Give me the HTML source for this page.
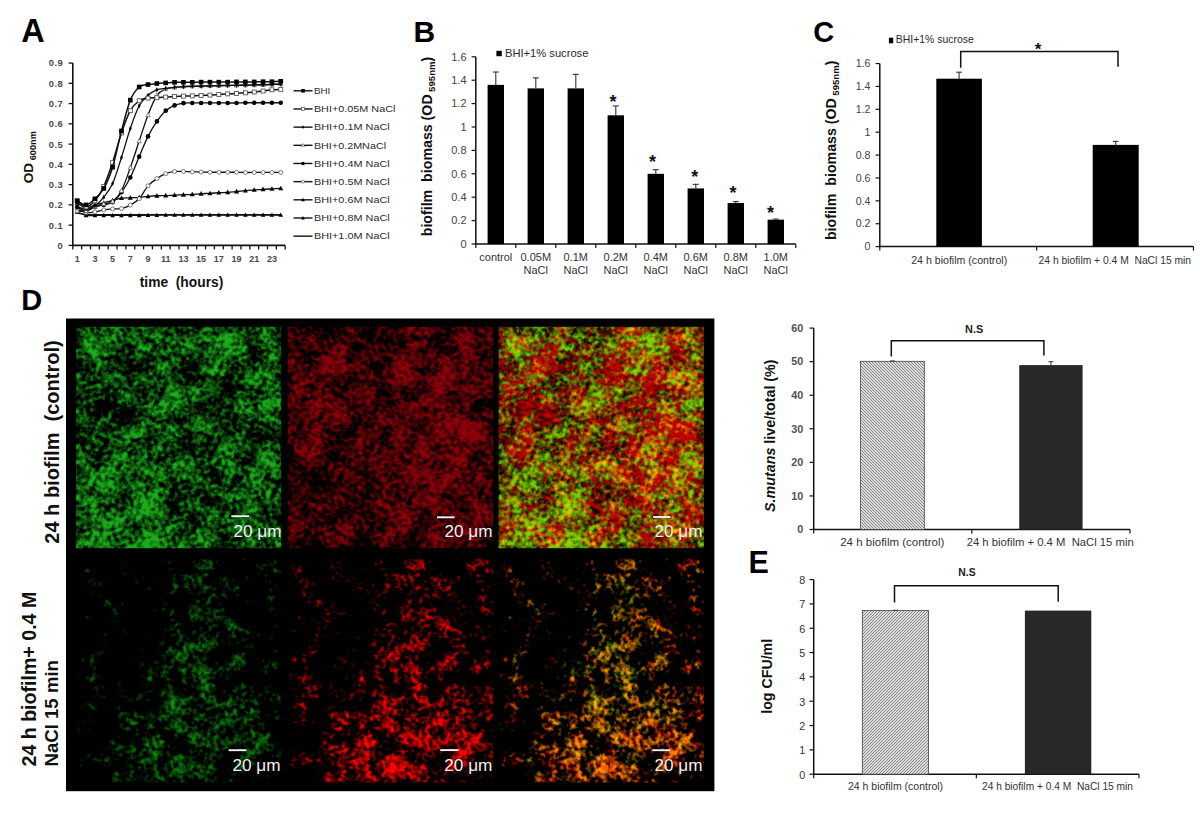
<!DOCTYPE html><html><head><meta charset="utf-8"><style>html,body{margin:0;padding:0;background:#fff;}svg{display:block;}</style></head><body>
<svg width="1200" height="813" viewBox="0 0 1200 813" font-family='"Liberation Sans", sans-serif'>
<defs>
<pattern id="hD" patternUnits="userSpaceOnUse" x="0" y="0" width="3" height="3"><rect width="3" height="3" fill="#dcdcdc"/><path d="M-1.5,1.5L1.5,4.5M0,0L3,3M1.5,-1.5L4.5,1.5" stroke="#858585" stroke-width="1.0"/></pattern>
<pattern id="hE" patternUnits="userSpaceOnUse" x="0" y="0" width="3" height="3"><rect width="3" height="3" fill="#dcdcdc"/><path d="M-1.5,1.5L1.5,-1.5M0,3L3,0M1.5,4.5L4.5,1.5" stroke="#858585" stroke-width="1.0"/></pattern>
</defs>
<rect width="1200" height="813" fill="#fff"/>
<text x="21.30" y="42.00" font-size="32.5" font-weight="bold" text-anchor="start" fill="#000" >A</text>
<line x1="72.80" y1="63.06" x2="72.80" y2="245.90" stroke="#111" stroke-width="1.6"/>
<line x1="68.60" y1="245.40" x2="72.80" y2="245.40" stroke="#111" stroke-width="1.3"/>
<text x="63.30" y="248.80" font-size="9.4" font-weight="bold" text-anchor="end" fill="#4a4a4a" letter-spacing="0.5">0</text>
<line x1="68.60" y1="225.14" x2="72.80" y2="225.14" stroke="#111" stroke-width="1.3"/>
<text x="63.30" y="228.54" font-size="9.4" font-weight="bold" text-anchor="end" fill="#4a4a4a" letter-spacing="0.5">0.1</text>
<line x1="68.60" y1="204.88" x2="72.80" y2="204.88" stroke="#111" stroke-width="1.3"/>
<text x="63.30" y="208.28" font-size="9.4" font-weight="bold" text-anchor="end" fill="#4a4a4a" letter-spacing="0.5">0.2</text>
<line x1="68.60" y1="184.62" x2="72.80" y2="184.62" stroke="#111" stroke-width="1.3"/>
<text x="63.30" y="188.02" font-size="9.4" font-weight="bold" text-anchor="end" fill="#4a4a4a" letter-spacing="0.5">0.3</text>
<line x1="68.60" y1="164.36" x2="72.80" y2="164.36" stroke="#111" stroke-width="1.3"/>
<text x="63.30" y="167.76" font-size="9.4" font-weight="bold" text-anchor="end" fill="#4a4a4a" letter-spacing="0.5">0.4</text>
<line x1="68.60" y1="144.10" x2="72.80" y2="144.10" stroke="#111" stroke-width="1.3"/>
<text x="63.30" y="147.50" font-size="9.4" font-weight="bold" text-anchor="end" fill="#4a4a4a" letter-spacing="0.5">0.5</text>
<line x1="68.60" y1="123.84" x2="72.80" y2="123.84" stroke="#111" stroke-width="1.3"/>
<text x="63.30" y="127.24" font-size="9.4" font-weight="bold" text-anchor="end" fill="#4a4a4a" letter-spacing="0.5">0.6</text>
<line x1="68.60" y1="103.58" x2="72.80" y2="103.58" stroke="#111" stroke-width="1.3"/>
<text x="63.30" y="106.98" font-size="9.4" font-weight="bold" text-anchor="end" fill="#4a4a4a" letter-spacing="0.5">0.7</text>
<line x1="68.60" y1="83.32" x2="72.80" y2="83.32" stroke="#111" stroke-width="1.3"/>
<text x="63.30" y="86.72" font-size="9.4" font-weight="bold" text-anchor="end" fill="#4a4a4a" letter-spacing="0.5">0.8</text>
<line x1="68.60" y1="63.06" x2="72.80" y2="63.06" stroke="#111" stroke-width="1.3"/>
<text x="63.30" y="66.46" font-size="9.4" font-weight="bold" text-anchor="end" fill="#4a4a4a" letter-spacing="0.5">0.9</text>
<line x1="72.00" y1="245.40" x2="285.20" y2="245.40" stroke="#111" stroke-width="1.6"/>
<line x1="72.80" y1="245.40" x2="72.80" y2="249.40" stroke="#111" stroke-width="1.3"/>
<line x1="81.65" y1="245.40" x2="81.65" y2="249.40" stroke="#111" stroke-width="1.3"/>
<line x1="90.50" y1="245.40" x2="90.50" y2="249.40" stroke="#111" stroke-width="1.3"/>
<line x1="99.35" y1="245.40" x2="99.35" y2="249.40" stroke="#111" stroke-width="1.3"/>
<line x1="108.20" y1="245.40" x2="108.20" y2="249.40" stroke="#111" stroke-width="1.3"/>
<line x1="117.05" y1="245.40" x2="117.05" y2="249.40" stroke="#111" stroke-width="1.3"/>
<line x1="125.90" y1="245.40" x2="125.90" y2="249.40" stroke="#111" stroke-width="1.3"/>
<line x1="134.75" y1="245.40" x2="134.75" y2="249.40" stroke="#111" stroke-width="1.3"/>
<line x1="143.60" y1="245.40" x2="143.60" y2="249.40" stroke="#111" stroke-width="1.3"/>
<line x1="152.45" y1="245.40" x2="152.45" y2="249.40" stroke="#111" stroke-width="1.3"/>
<line x1="161.30" y1="245.40" x2="161.30" y2="249.40" stroke="#111" stroke-width="1.3"/>
<line x1="170.15" y1="245.40" x2="170.15" y2="249.40" stroke="#111" stroke-width="1.3"/>
<line x1="179.00" y1="245.40" x2="179.00" y2="249.40" stroke="#111" stroke-width="1.3"/>
<line x1="187.85" y1="245.40" x2="187.85" y2="249.40" stroke="#111" stroke-width="1.3"/>
<line x1="196.70" y1="245.40" x2="196.70" y2="249.40" stroke="#111" stroke-width="1.3"/>
<line x1="205.55" y1="245.40" x2="205.55" y2="249.40" stroke="#111" stroke-width="1.3"/>
<line x1="214.40" y1="245.40" x2="214.40" y2="249.40" stroke="#111" stroke-width="1.3"/>
<line x1="223.25" y1="245.40" x2="223.25" y2="249.40" stroke="#111" stroke-width="1.3"/>
<line x1="232.10" y1="245.40" x2="232.10" y2="249.40" stroke="#111" stroke-width="1.3"/>
<line x1="240.95" y1="245.40" x2="240.95" y2="249.40" stroke="#111" stroke-width="1.3"/>
<line x1="249.80" y1="245.40" x2="249.80" y2="249.40" stroke="#111" stroke-width="1.3"/>
<line x1="258.65" y1="245.40" x2="258.65" y2="249.40" stroke="#111" stroke-width="1.3"/>
<line x1="267.50" y1="245.40" x2="267.50" y2="249.40" stroke="#111" stroke-width="1.3"/>
<line x1="276.35" y1="245.40" x2="276.35" y2="249.40" stroke="#111" stroke-width="1.3"/>
<line x1="285.20" y1="245.40" x2="285.20" y2="249.40" stroke="#111" stroke-width="1.3"/>
<text x="77.22" y="262.20" font-size="9" font-weight="bold" text-anchor="middle" fill="#4a4a4a" >1</text>
<text x="94.92" y="262.20" font-size="9" font-weight="bold" text-anchor="middle" fill="#4a4a4a" >3</text>
<text x="112.62" y="262.20" font-size="9" font-weight="bold" text-anchor="middle" fill="#4a4a4a" >5</text>
<text x="130.32" y="262.20" font-size="9" font-weight="bold" text-anchor="middle" fill="#4a4a4a" >7</text>
<text x="148.02" y="262.20" font-size="9" font-weight="bold" text-anchor="middle" fill="#4a4a4a" >9</text>
<text x="165.72" y="262.20" font-size="9" font-weight="bold" text-anchor="middle" fill="#4a4a4a" >11</text>
<text x="183.43" y="262.20" font-size="9" font-weight="bold" text-anchor="middle" fill="#4a4a4a" >13</text>
<text x="201.12" y="262.20" font-size="9" font-weight="bold" text-anchor="middle" fill="#4a4a4a" >15</text>
<text x="218.82" y="262.20" font-size="9" font-weight="bold" text-anchor="middle" fill="#4a4a4a" >17</text>
<text x="236.52" y="262.20" font-size="9" font-weight="bold" text-anchor="middle" fill="#4a4a4a" >19</text>
<text x="254.22" y="262.20" font-size="9" font-weight="bold" text-anchor="middle" fill="#4a4a4a" >21</text>
<text x="271.93" y="262.20" font-size="9" font-weight="bold" text-anchor="middle" fill="#4a4a4a" >23</text>
<text x="181.50" y="287.20" font-size="13.8" font-weight="bold" text-anchor="middle" fill="#111" >time&#160;&#160;(hours)</text>
<text transform="translate(33.3,183.2) rotate(-90)" font-size="13.6" font-weight="bold" fill="#111">OD<tspan font-size="9.2" dx="2.5" dy="2.4">600nm</tspan></text>
<path d="M77.22,212.98C78.64,213.24 83.24,214.35 86.07,214.60C88.91,214.86 92.09,214.60 94.92,214.60C97.76,214.60 100.94,214.60 103.77,214.60C106.61,214.60 109.79,214.60 112.62,214.60C115.46,214.60 118.64,214.60 121.47,214.60C124.31,214.60 127.49,214.60 130.32,214.60C133.16,214.60 136.34,214.60 139.18,214.60C142.01,214.60 145.19,214.60 148.02,214.60C150.86,214.60 154.04,214.60 156.88,214.60C159.71,214.60 162.89,214.60 165.72,214.60C168.56,214.60 171.74,214.60 174.57,214.60C177.41,214.60 180.59,214.60 183.43,214.60C186.26,214.60 189.44,214.60 192.27,214.60C195.11,214.60 198.29,214.60 201.12,214.60C203.96,214.60 207.14,214.60 209.97,214.60C212.81,214.60 215.99,214.60 218.82,214.60C221.66,214.60 224.84,214.60 227.68,214.60C230.51,214.60 233.69,214.60 236.52,214.60C239.36,214.60 242.54,214.60 245.38,214.60C248.21,214.60 251.39,214.60 254.22,214.60C257.06,214.60 260.24,214.60 263.07,214.60C265.91,214.60 269.09,214.60 271.93,214.60C274.76,214.60 279.36,214.60 280.77,214.60" fill="none" stroke="#111" stroke-width="1.3"/>
<path d="M77.22,211.97C78.64,212.52 83.24,214.86 86.07,215.42C88.91,215.97 92.09,215.42 94.92,215.42C97.76,215.42 100.94,215.42 103.77,215.42C106.61,215.42 109.79,215.42 112.62,215.42C115.46,215.42 118.64,215.42 121.47,215.42C124.31,215.42 127.49,215.42 130.32,215.42C133.16,215.42 136.34,215.45 139.18,215.42C142.01,215.38 145.19,215.25 148.02,215.21C150.86,215.18 154.04,215.25 156.88,215.21C159.71,215.18 162.89,215.04 165.72,215.01C168.56,214.98 171.74,215.01 174.57,215.01C177.41,215.01 180.59,215.01 183.43,215.01C186.26,215.01 189.44,215.01 192.27,215.01C195.11,215.01 198.29,215.01 201.12,215.01C203.96,215.01 207.14,215.01 209.97,215.01C212.81,215.01 215.99,215.01 218.82,215.01C221.66,215.01 224.84,215.01 227.68,215.01C230.51,215.01 233.69,215.01 236.52,215.01C239.36,215.01 242.54,215.01 245.38,215.01C248.21,215.01 251.39,215.01 254.22,215.01C257.06,215.01 260.24,215.01 263.07,215.01C265.91,215.01 269.09,215.01 271.93,215.01C274.76,215.01 279.36,215.01 280.77,215.01" fill="none" stroke="#111" stroke-width="1.3"/>
<path d="M77.22,209.57L79.52,213.77L74.92,213.77Z" fill="#000"/>
<path d="M86.07,213.02L88.37,217.22L83.77,217.22Z" fill="#000"/>
<path d="M94.92,213.02L97.22,217.22L92.62,217.22Z" fill="#000"/>
<path d="M103.77,213.02L106.07,217.22L101.47,217.22Z" fill="#000"/>
<path d="M112.62,213.02L114.92,217.22L110.33,217.22Z" fill="#000"/>
<path d="M121.47,213.02L123.77,217.22L119.17,217.22Z" fill="#000"/>
<path d="M130.32,213.02L132.62,217.22L128.02,217.22Z" fill="#000"/>
<path d="M139.18,213.02L141.48,217.22L136.88,217.22Z" fill="#000"/>
<path d="M148.02,212.81L150.32,217.01L145.72,217.01Z" fill="#000"/>
<path d="M156.88,212.81L159.18,217.01L154.57,217.01Z" fill="#000"/>
<path d="M165.72,212.61L168.03,216.81L163.42,216.81Z" fill="#000"/>
<path d="M174.57,212.61L176.88,216.81L172.27,216.81Z" fill="#000"/>
<path d="M183.43,212.61L185.73,216.81L181.12,216.81Z" fill="#000"/>
<path d="M192.27,212.61L194.57,216.81L189.97,216.81Z" fill="#000"/>
<path d="M201.12,212.61L203.43,216.81L198.82,216.81Z" fill="#000"/>
<path d="M209.97,212.61L212.27,216.81L207.67,216.81Z" fill="#000"/>
<path d="M218.82,212.61L221.12,216.81L216.52,216.81Z" fill="#000"/>
<path d="M227.68,212.61L229.98,216.81L225.38,216.81Z" fill="#000"/>
<path d="M236.52,212.61L238.82,216.81L234.22,216.81Z" fill="#000"/>
<path d="M245.38,212.61L247.68,216.81L243.07,216.81Z" fill="#000"/>
<path d="M254.22,212.61L256.52,216.81L251.92,216.81Z" fill="#000"/>
<path d="M263.07,212.61L265.38,216.81L260.77,216.81Z" fill="#000"/>
<path d="M271.93,212.61L274.23,216.81L269.62,216.81Z" fill="#000"/>
<path d="M280.77,212.61L283.07,216.81L278.47,216.81Z" fill="#000"/>
<path d="M77.22,202.85C78.64,203.66 83.24,207.59 86.07,207.92C88.91,208.24 92.09,205.69 94.92,204.88C97.76,204.07 100.94,203.57 103.77,202.85C106.61,202.14 109.79,201.17 112.62,200.42C115.46,199.68 118.64,198.62 121.47,198.19C124.31,197.77 127.49,197.92 130.32,197.79C133.16,197.66 136.34,197.61 139.18,197.38C142.01,197.16 145.19,196.63 148.02,196.37C150.86,196.11 154.04,195.89 156.88,195.76C159.71,195.63 162.89,195.66 165.72,195.56C168.56,195.46 171.74,195.28 174.57,195.16C177.41,195.03 180.59,194.88 183.43,194.75C186.26,194.62 189.44,194.51 192.27,194.34C195.11,194.18 198.29,193.90 201.12,193.74C203.96,193.57 207.14,193.49 209.97,193.33C212.81,193.17 215.99,192.89 218.82,192.72C221.66,192.56 224.84,192.51 227.68,192.32C230.51,192.12 233.69,191.77 236.52,191.51C239.36,191.25 242.54,190.96 245.38,190.70C248.21,190.44 251.39,190.11 254.22,189.89C257.06,189.66 260.24,189.44 263.07,189.28C265.91,189.12 269.09,189.00 271.93,188.87C274.76,188.74 279.36,188.53 280.77,188.47" fill="none" stroke="#111" stroke-width="1.3"/>
<path d="M77.22,200.15L79.72,204.75L74.72,204.75Z" fill="#000"/>
<path d="M86.07,205.22L88.57,209.82L83.57,209.82Z" fill="#000"/>
<path d="M94.92,202.18L97.42,206.78L92.42,206.78Z" fill="#000"/>
<path d="M103.77,200.15L106.27,204.75L101.27,204.75Z" fill="#000"/>
<path d="M112.62,197.72L115.12,202.32L110.12,202.32Z" fill="#000"/>
<path d="M121.47,195.49L123.97,200.09L118.97,200.09Z" fill="#000"/>
<path d="M130.32,195.09L132.82,199.69L127.82,199.69Z" fill="#000"/>
<path d="M139.18,194.68L141.68,199.28L136.68,199.28Z" fill="#000"/>
<path d="M148.02,193.67L150.52,198.27L145.52,198.27Z" fill="#000"/>
<path d="M156.88,193.06L159.38,197.66L154.38,197.66Z" fill="#000"/>
<path d="M165.72,192.86L168.22,197.46L163.22,197.46Z" fill="#000"/>
<path d="M174.57,192.46L177.07,197.06L172.07,197.06Z" fill="#000"/>
<path d="M183.43,192.05L185.93,196.65L180.93,196.65Z" fill="#000"/>
<path d="M192.27,191.64L194.77,196.24L189.77,196.24Z" fill="#000"/>
<path d="M201.12,191.04L203.62,195.64L198.62,195.64Z" fill="#000"/>
<path d="M209.97,190.63L212.47,195.23L207.47,195.23Z" fill="#000"/>
<path d="M218.82,190.02L221.32,194.62L216.32,194.62Z" fill="#000"/>
<path d="M227.68,189.62L230.18,194.22L225.18,194.22Z" fill="#000"/>
<path d="M236.52,188.81L239.02,193.41L234.02,193.41Z" fill="#000"/>
<path d="M245.38,188.00L247.88,192.60L242.88,192.60Z" fill="#000"/>
<path d="M254.22,187.19L256.72,191.79L251.72,191.79Z" fill="#000"/>
<path d="M263.07,186.58L265.57,191.18L260.57,191.18Z" fill="#000"/>
<path d="M271.93,186.17L274.43,190.77L269.43,190.77Z" fill="#000"/>
<path d="M280.77,185.77L283.27,190.37L278.27,190.37Z" fill="#000"/>
<path d="M77.22,208.93C78.64,209.52 83.24,212.09 86.07,212.58C88.91,213.07 92.09,212.39 94.92,211.97C97.76,211.55 100.94,210.43 103.77,209.94C106.61,209.46 109.79,209.16 112.62,208.93C115.46,208.71 118.64,209.14 121.47,208.53C124.31,207.91 127.49,206.64 130.32,205.08C133.16,203.53 136.34,201.88 139.18,198.80C142.01,195.72 145.19,189.08 148.02,185.84C150.86,182.59 154.04,180.49 156.88,178.54C159.71,176.60 162.89,174.81 165.72,173.68C168.56,172.55 171.74,171.81 174.57,171.45C177.41,171.09 180.59,171.39 183.43,171.45C186.26,171.52 189.44,171.76 192.27,171.86C195.11,171.95 198.29,171.99 201.12,172.06C203.96,172.12 207.14,172.23 209.97,172.26C212.81,172.29 215.99,172.26 218.82,172.26C221.66,172.26 224.84,172.26 227.68,172.26C230.51,172.26 233.69,172.23 236.52,172.26C239.36,172.29 242.54,172.43 245.38,172.46C248.21,172.50 251.39,172.46 254.22,172.46C257.06,172.46 260.24,172.46 263.07,172.46C265.91,172.46 269.09,172.46 271.93,172.46C274.76,172.46 279.36,172.46 280.77,172.46" fill="none" stroke="#111" stroke-width="1.3"/>
<circle cx="77.22" cy="208.93" r="2.0" fill="#fff" stroke="#555" stroke-width="0.75"/>
<circle cx="86.07" cy="212.58" r="2.0" fill="#fff" stroke="#555" stroke-width="0.75"/>
<circle cx="94.92" cy="211.97" r="2.0" fill="#fff" stroke="#555" stroke-width="0.75"/>
<circle cx="103.77" cy="209.94" r="2.0" fill="#fff" stroke="#555" stroke-width="0.75"/>
<circle cx="112.62" cy="208.93" r="2.0" fill="#fff" stroke="#555" stroke-width="0.75"/>
<circle cx="121.47" cy="208.53" r="2.0" fill="#fff" stroke="#555" stroke-width="0.75"/>
<circle cx="130.32" cy="205.08" r="2.0" fill="#fff" stroke="#555" stroke-width="0.75"/>
<circle cx="139.18" cy="198.80" r="2.0" fill="#fff" stroke="#555" stroke-width="0.75"/>
<circle cx="148.02" cy="185.84" r="2.0" fill="#fff" stroke="#555" stroke-width="0.75"/>
<circle cx="156.88" cy="178.54" r="2.0" fill="#fff" stroke="#555" stroke-width="0.75"/>
<circle cx="165.72" cy="173.68" r="2.0" fill="#fff" stroke="#555" stroke-width="0.75"/>
<circle cx="174.57" cy="171.45" r="2.0" fill="#fff" stroke="#555" stroke-width="0.75"/>
<circle cx="183.43" cy="171.45" r="2.0" fill="#fff" stroke="#555" stroke-width="0.75"/>
<circle cx="192.27" cy="171.86" r="2.0" fill="#fff" stroke="#555" stroke-width="0.75"/>
<circle cx="201.12" cy="172.06" r="2.0" fill="#fff" stroke="#555" stroke-width="0.75"/>
<circle cx="209.97" cy="172.26" r="2.0" fill="#fff" stroke="#555" stroke-width="0.75"/>
<circle cx="218.82" cy="172.26" r="2.0" fill="#fff" stroke="#555" stroke-width="0.75"/>
<circle cx="227.68" cy="172.26" r="2.0" fill="#fff" stroke="#555" stroke-width="0.75"/>
<circle cx="236.52" cy="172.26" r="2.0" fill="#fff" stroke="#555" stroke-width="0.75"/>
<circle cx="245.38" cy="172.46" r="2.0" fill="#fff" stroke="#555" stroke-width="0.75"/>
<circle cx="254.22" cy="172.46" r="2.0" fill="#fff" stroke="#555" stroke-width="0.75"/>
<circle cx="263.07" cy="172.46" r="2.0" fill="#fff" stroke="#555" stroke-width="0.75"/>
<circle cx="271.93" cy="172.46" r="2.0" fill="#fff" stroke="#555" stroke-width="0.75"/>
<circle cx="280.77" cy="172.46" r="2.0" fill="#fff" stroke="#555" stroke-width="0.75"/>
<path d="M77.22,206.91C78.64,207.55 83.24,210.96 86.07,210.96C88.91,210.96 92.09,207.88 94.92,206.91C97.76,205.93 100.94,205.63 103.77,204.88C106.61,204.13 109.79,204.26 112.62,202.25C115.46,200.24 118.64,196.27 121.47,192.32C124.31,188.36 127.49,183.23 130.32,177.53C133.16,171.82 136.34,163.24 139.18,156.66C142.01,150.08 145.19,142.04 148.02,136.40C150.86,130.76 154.04,125.53 156.88,121.41C159.71,117.29 162.89,113.23 165.72,110.67C168.56,108.11 171.74,106.60 174.57,105.40C177.41,104.20 180.59,103.56 183.43,103.17C186.26,102.79 189.44,103.00 192.27,102.97C195.11,102.94 198.29,102.97 201.12,102.97C203.96,102.97 207.14,102.97 209.97,102.97C212.81,102.97 215.99,102.97 218.82,102.97C221.66,102.97 224.84,102.97 227.68,102.97C230.51,102.97 233.69,103.00 236.52,102.97C239.36,102.94 242.54,102.80 245.38,102.77C248.21,102.74 251.39,102.77 254.22,102.77C257.06,102.77 260.24,102.77 263.07,102.77C265.91,102.77 269.09,102.77 271.93,102.77C274.76,102.77 279.36,102.77 280.77,102.77" fill="none" stroke="#111" stroke-width="1.3"/>
<circle cx="77.22" cy="206.91" r="2.3" fill="#000"/>
<circle cx="86.07" cy="210.96" r="2.3" fill="#000"/>
<circle cx="94.92" cy="206.91" r="2.3" fill="#000"/>
<circle cx="103.77" cy="204.88" r="2.3" fill="#000"/>
<circle cx="112.62" cy="202.25" r="2.3" fill="#000"/>
<circle cx="121.47" cy="192.32" r="2.3" fill="#000"/>
<circle cx="130.32" cy="177.53" r="2.3" fill="#000"/>
<circle cx="139.18" cy="156.66" r="2.3" fill="#000"/>
<circle cx="148.02" cy="136.40" r="2.3" fill="#000"/>
<circle cx="156.88" cy="121.41" r="2.3" fill="#000"/>
<circle cx="165.72" cy="110.67" r="2.3" fill="#000"/>
<circle cx="174.57" cy="105.40" r="2.3" fill="#000"/>
<circle cx="183.43" cy="103.17" r="2.3" fill="#000"/>
<circle cx="192.27" cy="102.97" r="2.3" fill="#000"/>
<circle cx="201.12" cy="102.97" r="2.3" fill="#000"/>
<circle cx="209.97" cy="102.97" r="2.3" fill="#000"/>
<circle cx="218.82" cy="102.97" r="2.3" fill="#000"/>
<circle cx="227.68" cy="102.97" r="2.3" fill="#000"/>
<circle cx="236.52" cy="102.97" r="2.3" fill="#000"/>
<circle cx="245.38" cy="102.77" r="2.3" fill="#000"/>
<circle cx="254.22" cy="102.77" r="2.3" fill="#000"/>
<circle cx="263.07" cy="102.77" r="2.3" fill="#000"/>
<circle cx="271.93" cy="102.77" r="2.3" fill="#000"/>
<circle cx="280.77" cy="102.77" r="2.3" fill="#000"/>
<path d="M77.22,210.96C78.64,210.96 83.24,211.61 86.07,210.96C88.91,210.31 92.09,208.04 94.92,206.91C97.76,205.77 100.94,204.74 103.77,203.87C106.61,202.99 109.79,203.54 112.62,201.44C115.46,199.33 118.64,196.11 121.47,190.70C124.31,185.28 127.49,175.54 130.32,167.60C133.16,159.66 136.34,149.49 139.18,141.06C142.01,132.63 145.19,122.25 148.02,114.93C150.86,107.60 154.04,99.42 156.88,95.27C159.71,91.12 162.89,90.26 165.72,88.99C168.56,87.73 171.74,87.79 174.57,87.37C177.41,86.95 180.59,86.55 183.43,86.36C186.26,86.16 189.44,86.22 192.27,86.16C195.11,86.09 198.29,86.02 201.12,85.95C203.96,85.89 207.14,85.82 209.97,85.75C212.81,85.69 215.99,85.61 218.82,85.55C221.66,85.48 224.84,85.38 227.68,85.35C230.51,85.31 233.69,85.38 236.52,85.35C239.36,85.31 242.54,85.21 245.38,85.14C248.21,85.08 251.39,85.01 254.22,84.94C257.06,84.88 260.24,84.84 263.07,84.74C265.91,84.64 269.09,84.46 271.93,84.33C274.76,84.20 279.36,83.99 280.77,83.93" fill="none" stroke="#111" stroke-width="1.3"/>
<path d="M77.22,208.56L79.42,212.66L75.02,212.66Z" fill="#fff" stroke="#555" stroke-width="0.7"/>
<path d="M86.07,208.56L88.27,212.66L83.87,212.66Z" fill="#fff" stroke="#555" stroke-width="0.7"/>
<path d="M94.92,204.51L97.12,208.61L92.72,208.61Z" fill="#fff" stroke="#555" stroke-width="0.7"/>
<path d="M103.77,201.47L105.97,205.57L101.57,205.57Z" fill="#fff" stroke="#555" stroke-width="0.7"/>
<path d="M112.62,199.04L114.83,203.14L110.42,203.14Z" fill="#fff" stroke="#555" stroke-width="0.7"/>
<path d="M121.47,188.30L123.67,192.40L119.27,192.40Z" fill="#fff" stroke="#555" stroke-width="0.7"/>
<path d="M130.32,165.20L132.52,169.30L128.12,169.30Z" fill="#fff" stroke="#555" stroke-width="0.7"/>
<path d="M139.18,138.66L141.38,142.76L136.98,142.76Z" fill="#fff" stroke="#555" stroke-width="0.7"/>
<path d="M148.02,112.53L150.22,116.63L145.82,116.63Z" fill="#fff" stroke="#555" stroke-width="0.7"/>
<path d="M156.88,92.87L159.07,96.97L154.68,96.97Z" fill="#fff" stroke="#555" stroke-width="0.7"/>
<path d="M165.72,86.59L167.92,90.69L163.53,90.69Z" fill="#fff" stroke="#555" stroke-width="0.7"/>
<path d="M174.57,84.97L176.77,89.07L172.38,89.07Z" fill="#fff" stroke="#555" stroke-width="0.7"/>
<path d="M183.43,83.96L185.62,88.06L181.23,88.06Z" fill="#fff" stroke="#555" stroke-width="0.7"/>
<path d="M192.27,83.76L194.47,87.86L190.07,87.86Z" fill="#fff" stroke="#555" stroke-width="0.7"/>
<path d="M201.12,83.55L203.32,87.65L198.93,87.65Z" fill="#fff" stroke="#555" stroke-width="0.7"/>
<path d="M209.97,83.35L212.17,87.45L207.77,87.45Z" fill="#fff" stroke="#555" stroke-width="0.7"/>
<path d="M218.82,83.15L221.02,87.25L216.62,87.25Z" fill="#fff" stroke="#555" stroke-width="0.7"/>
<path d="M227.68,82.95L229.88,87.05L225.48,87.05Z" fill="#fff" stroke="#555" stroke-width="0.7"/>
<path d="M236.52,82.95L238.72,87.05L234.32,87.05Z" fill="#fff" stroke="#555" stroke-width="0.7"/>
<path d="M245.38,82.74L247.57,86.84L243.18,86.84Z" fill="#fff" stroke="#555" stroke-width="0.7"/>
<path d="M254.22,82.54L256.42,86.64L252.02,86.64Z" fill="#fff" stroke="#555" stroke-width="0.7"/>
<path d="M263.07,82.34L265.27,86.44L260.88,86.44Z" fill="#fff" stroke="#555" stroke-width="0.7"/>
<path d="M271.93,81.93L274.12,86.03L269.73,86.03Z" fill="#fff" stroke="#555" stroke-width="0.7"/>
<path d="M280.77,81.53L282.97,85.63L278.57,85.63Z" fill="#fff" stroke="#555" stroke-width="0.7"/>
<path d="M77.22,206.91C78.64,207.23 83.24,209.09 86.07,208.93C88.91,208.77 92.09,207.77 94.92,205.89C97.76,204.01 100.94,200.75 103.77,197.18C106.61,193.62 109.79,189.96 112.62,183.61C115.46,177.25 118.64,166.29 121.47,157.47C124.31,148.65 127.49,136.77 130.32,128.50C133.16,120.23 136.34,111.12 139.18,105.81C142.01,100.49 145.19,97.83 148.02,95.27C150.86,92.71 154.04,90.91 156.88,89.80C159.71,88.70 162.89,88.77 165.72,88.39C168.56,88.00 171.74,87.63 174.57,87.37C177.41,87.11 180.59,86.93 183.43,86.76C186.26,86.60 189.44,86.46 192.27,86.36C195.11,86.26 198.29,86.22 201.12,86.16C203.96,86.09 207.14,86.02 209.97,85.95C212.81,85.89 215.99,85.82 218.82,85.75C221.66,85.69 224.84,85.61 227.68,85.55C230.51,85.48 233.69,85.41 236.52,85.35C239.36,85.28 242.54,85.21 245.38,85.14C248.21,85.08 251.39,85.01 254.22,84.94C257.06,84.88 260.24,84.80 263.07,84.74C265.91,84.67 269.09,84.60 271.93,84.54C274.76,84.47 279.36,84.37 280.77,84.33" fill="none" stroke="#111" stroke-width="1.3"/>
<path d="M77.22,204.41L78.62,206.91L77.22,209.41L75.82,206.91Z" fill="#000"/>
<path d="M86.07,206.43L87.47,208.93L86.07,211.43L84.67,208.93Z" fill="#000"/>
<path d="M94.92,203.39L96.33,205.89L94.92,208.39L93.52,205.89Z" fill="#000"/>
<path d="M103.77,194.68L105.17,197.18L103.77,199.68L102.37,197.18Z" fill="#000"/>
<path d="M112.62,181.11L114.03,183.61L112.62,186.11L111.22,183.61Z" fill="#000"/>
<path d="M121.47,154.97L122.88,157.47L121.47,159.97L120.07,157.47Z" fill="#000"/>
<path d="M130.32,126.00L131.72,128.50L130.32,131.00L128.92,128.50Z" fill="#000"/>
<path d="M139.18,103.31L140.58,105.81L139.18,108.31L137.78,105.81Z" fill="#000"/>
<path d="M148.02,92.77L149.42,95.27L148.02,97.77L146.62,95.27Z" fill="#000"/>
<path d="M156.88,87.30L158.28,89.80L156.88,92.30L155.47,89.80Z" fill="#000"/>
<path d="M165.72,85.89L167.12,88.39L165.72,90.89L164.32,88.39Z" fill="#000"/>
<path d="M174.57,84.87L175.97,87.37L174.57,89.87L173.17,87.37Z" fill="#000"/>
<path d="M183.43,84.26L184.83,86.76L183.43,89.26L182.03,86.76Z" fill="#000"/>
<path d="M192.27,83.86L193.67,86.36L192.27,88.86L190.87,86.36Z" fill="#000"/>
<path d="M201.12,83.66L202.53,86.16L201.12,88.66L199.72,86.16Z" fill="#000"/>
<path d="M209.97,83.45L211.37,85.95L209.97,88.45L208.57,85.95Z" fill="#000"/>
<path d="M218.82,83.25L220.22,85.75L218.82,88.25L217.42,85.75Z" fill="#000"/>
<path d="M227.68,83.05L229.08,85.55L227.68,88.05L226.28,85.55Z" fill="#000"/>
<path d="M236.52,82.85L237.92,85.35L236.52,87.85L235.12,85.35Z" fill="#000"/>
<path d="M245.38,82.64L246.78,85.14L245.38,87.64L243.97,85.14Z" fill="#000"/>
<path d="M254.22,82.44L255.62,84.94L254.22,87.44L252.82,84.94Z" fill="#000"/>
<path d="M263.07,82.24L264.47,84.74L263.07,87.24L261.68,84.74Z" fill="#000"/>
<path d="M271.93,82.04L273.32,84.54L271.93,87.04L270.53,84.54Z" fill="#000"/>
<path d="M280.77,81.83L282.17,84.33L280.77,86.83L279.38,84.33Z" fill="#000"/>
<path d="M77.22,200.83C78.64,201.80 83.24,206.91 86.07,206.91C88.91,206.91 92.09,204.10 94.92,200.83C97.76,197.55 100.94,192.60 103.77,186.44C106.61,180.28 109.79,170.89 112.62,162.33C115.46,153.78 118.64,141.22 121.47,132.96C124.31,124.69 127.49,115.83 130.32,110.67C133.16,105.52 136.34,102.75 139.18,100.74C142.01,98.73 145.19,98.60 148.02,98.11C150.86,97.62 154.04,97.87 156.88,97.70C159.71,97.54 162.89,97.29 165.72,97.10C168.56,96.90 171.74,96.65 174.57,96.49C177.41,96.33 180.59,96.18 183.43,96.08C186.26,95.99 189.44,95.98 192.27,95.88C195.11,95.78 198.29,95.61 201.12,95.48C203.96,95.35 207.14,95.23 209.97,95.07C212.81,94.91 215.99,94.66 218.82,94.46C221.66,94.27 224.84,94.02 227.68,93.86C230.51,93.69 233.69,93.61 236.52,93.45C239.36,93.29 242.54,93.07 245.38,92.84C248.21,92.62 251.39,92.32 254.22,92.03C257.06,91.74 260.24,91.38 263.07,91.02C265.91,90.66 269.09,90.06 271.93,89.80C274.76,89.54 279.36,89.46 280.77,89.40" fill="none" stroke="#111" stroke-width="1.5"/>
<rect x="75.22" y="198.83" width="4.0" height="4.0" fill="#fff" stroke="#444" stroke-width="0.8"/>
<rect x="84.07" y="204.91" width="4.0" height="4.0" fill="#fff" stroke="#444" stroke-width="0.8"/>
<rect x="92.92" y="198.83" width="4.0" height="4.0" fill="#fff" stroke="#444" stroke-width="0.8"/>
<rect x="101.77" y="184.44" width="4.0" height="4.0" fill="#fff" stroke="#444" stroke-width="0.8"/>
<rect x="110.62" y="160.33" width="4.0" height="4.0" fill="#fff" stroke="#444" stroke-width="0.8"/>
<rect x="119.47" y="130.96" width="4.0" height="4.0" fill="#fff" stroke="#444" stroke-width="0.8"/>
<rect x="128.32" y="108.67" width="4.0" height="4.0" fill="#fff" stroke="#444" stroke-width="0.8"/>
<rect x="137.18" y="98.74" width="4.0" height="4.0" fill="#fff" stroke="#444" stroke-width="0.8"/>
<rect x="146.02" y="96.11" width="4.0" height="4.0" fill="#fff" stroke="#444" stroke-width="0.8"/>
<rect x="154.88" y="95.70" width="4.0" height="4.0" fill="#fff" stroke="#444" stroke-width="0.8"/>
<rect x="163.72" y="95.10" width="4.0" height="4.0" fill="#fff" stroke="#444" stroke-width="0.8"/>
<rect x="172.57" y="94.49" width="4.0" height="4.0" fill="#fff" stroke="#444" stroke-width="0.8"/>
<rect x="181.43" y="94.08" width="4.0" height="4.0" fill="#fff" stroke="#444" stroke-width="0.8"/>
<rect x="190.27" y="93.88" width="4.0" height="4.0" fill="#fff" stroke="#444" stroke-width="0.8"/>
<rect x="199.12" y="93.48" width="4.0" height="4.0" fill="#fff" stroke="#444" stroke-width="0.8"/>
<rect x="207.97" y="93.07" width="4.0" height="4.0" fill="#fff" stroke="#444" stroke-width="0.8"/>
<rect x="216.82" y="92.46" width="4.0" height="4.0" fill="#fff" stroke="#444" stroke-width="0.8"/>
<rect x="225.68" y="91.86" width="4.0" height="4.0" fill="#fff" stroke="#444" stroke-width="0.8"/>
<rect x="234.52" y="91.45" width="4.0" height="4.0" fill="#fff" stroke="#444" stroke-width="0.8"/>
<rect x="243.38" y="90.84" width="4.0" height="4.0" fill="#fff" stroke="#444" stroke-width="0.8"/>
<rect x="252.22" y="90.03" width="4.0" height="4.0" fill="#fff" stroke="#444" stroke-width="0.8"/>
<rect x="261.07" y="89.02" width="4.0" height="4.0" fill="#fff" stroke="#444" stroke-width="0.8"/>
<rect x="269.93" y="87.80" width="4.0" height="4.0" fill="#fff" stroke="#444" stroke-width="0.8"/>
<rect x="278.77" y="87.40" width="4.0" height="4.0" fill="#fff" stroke="#444" stroke-width="0.8"/>
<path d="M77.22,200.83C78.64,201.48 83.24,205.20 86.07,204.88C88.91,204.56 92.09,201.43 94.92,198.80C97.76,196.18 100.94,193.53 103.77,188.47C106.61,183.41 109.79,176.40 112.62,167.20C115.46,157.99 118.64,141.66 121.47,130.93C124.31,120.20 127.49,107.17 130.32,100.14C133.16,93.10 136.34,89.46 139.18,86.97C142.01,84.47 145.19,85.09 148.02,84.54C150.86,83.98 154.04,83.78 156.88,83.52C159.71,83.26 162.89,83.11 165.72,82.91C168.56,82.72 171.74,82.40 174.57,82.31C177.41,82.21 180.59,82.31 183.43,82.31C186.26,82.31 189.44,82.34 192.27,82.31C195.11,82.27 198.29,82.14 201.12,82.10C203.96,82.07 207.14,82.10 209.97,82.10C212.81,82.10 215.99,82.10 218.82,82.10C221.66,82.10 224.84,82.14 227.68,82.10C230.51,82.07 233.69,81.93 236.52,81.90C239.36,81.87 242.54,81.90 245.38,81.90C248.21,81.90 251.39,81.93 254.22,81.90C257.06,81.87 260.24,81.73 263.07,81.70C265.91,81.67 269.09,81.76 271.93,81.70C274.76,81.63 279.36,81.36 280.77,81.29" fill="none" stroke="#111" stroke-width="1.5"/>
<rect x="74.92" y="198.53" width="4.6" height="4.6" fill="#000"/>
<rect x="83.77" y="202.58" width="4.6" height="4.6" fill="#000"/>
<rect x="92.62" y="196.50" width="4.6" height="4.6" fill="#000"/>
<rect x="101.47" y="186.17" width="4.6" height="4.6" fill="#000"/>
<rect x="110.33" y="164.90" width="4.6" height="4.6" fill="#000"/>
<rect x="119.17" y="128.63" width="4.6" height="4.6" fill="#000"/>
<rect x="128.02" y="97.84" width="4.6" height="4.6" fill="#000"/>
<rect x="136.88" y="84.67" width="4.6" height="4.6" fill="#000"/>
<rect x="145.72" y="82.24" width="4.6" height="4.6" fill="#000"/>
<rect x="154.57" y="81.22" width="4.6" height="4.6" fill="#000"/>
<rect x="163.42" y="80.61" width="4.6" height="4.6" fill="#000"/>
<rect x="172.27" y="80.01" width="4.6" height="4.6" fill="#000"/>
<rect x="181.12" y="80.01" width="4.6" height="4.6" fill="#000"/>
<rect x="189.97" y="80.01" width="4.6" height="4.6" fill="#000"/>
<rect x="198.82" y="79.80" width="4.6" height="4.6" fill="#000"/>
<rect x="207.67" y="79.80" width="4.6" height="4.6" fill="#000"/>
<rect x="216.52" y="79.80" width="4.6" height="4.6" fill="#000"/>
<rect x="225.38" y="79.80" width="4.6" height="4.6" fill="#000"/>
<rect x="234.22" y="79.60" width="4.6" height="4.6" fill="#000"/>
<rect x="243.07" y="79.60" width="4.6" height="4.6" fill="#000"/>
<rect x="251.92" y="79.60" width="4.6" height="4.6" fill="#000"/>
<rect x="260.77" y="79.40" width="4.6" height="4.6" fill="#000"/>
<rect x="269.62" y="79.40" width="4.6" height="4.6" fill="#000"/>
<rect x="278.47" y="78.99" width="4.6" height="4.6" fill="#000"/>
<line x1="293.50" y1="90.80" x2="312.50" y2="90.80" stroke="#111" stroke-width="1.4"/>
<g transform="translate(303,90.80) scale(0.78) translate(-303,-90.80)">
<rect x="300.70" y="88.50" width="4.6" height="4.6" fill="#000"/>
</g>
<text x="313.90" y="94.10" font-size="9.3" font-weight="normal" text-anchor="start" fill="#2a2a2a"  textLength="16.4" lengthAdjust="spacingAndGlyphs">BHI</text>
<line x1="293.50" y1="108.97" x2="312.50" y2="108.97" stroke="#111" stroke-width="1.4"/>
<g transform="translate(303,108.97) scale(0.78) translate(-303,-108.97)">
<rect x="301.00" y="106.97" width="4.0" height="4.0" fill="#fff" stroke="#444" stroke-width="0.8"/>
</g>
<text x="313.90" y="112.27" font-size="9.3" font-weight="normal" text-anchor="start" fill="#2a2a2a"  textLength="81.5" lengthAdjust="spacingAndGlyphs">BHI+0.05M NaCl</text>
<line x1="293.50" y1="127.14" x2="312.50" y2="127.14" stroke="#111" stroke-width="1.4"/>
<g transform="translate(303,127.14) scale(0.78) translate(-303,-127.14)">
<path d="M303.00,124.64L304.40,127.14L303.00,129.64L301.60,127.14Z" fill="#000"/>
</g>
<text x="313.90" y="130.44" font-size="9.3" font-weight="normal" text-anchor="start" fill="#2a2a2a"  textLength="75.8" lengthAdjust="spacingAndGlyphs">BHI+0.1M NaCl</text>
<line x1="293.50" y1="145.31" x2="312.50" y2="145.31" stroke="#111" stroke-width="1.4"/>
<g transform="translate(303,145.31) scale(0.78) translate(-303,-145.31)">
<path d="M303.00,142.91L305.20,147.01L300.80,147.01Z" fill="#fff" stroke="#555" stroke-width="0.7"/>
</g>
<text x="313.90" y="148.61" font-size="9.3" font-weight="normal" text-anchor="start" fill="#2a2a2a"  textLength="72.2" lengthAdjust="spacingAndGlyphs">BHI+0.2MNaCl</text>
<line x1="293.50" y1="163.48" x2="312.50" y2="163.48" stroke="#111" stroke-width="1.4"/>
<g transform="translate(303,163.48) scale(0.78) translate(-303,-163.48)">
<circle cx="303.00" cy="163.48" r="2.3" fill="#000"/>
</g>
<text x="313.90" y="166.78" font-size="9.3" font-weight="normal" text-anchor="start" fill="#2a2a2a"  textLength="75.8" lengthAdjust="spacingAndGlyphs">BHI+0.4M NaCl</text>
<line x1="293.50" y1="181.65" x2="312.50" y2="181.65" stroke="#111" stroke-width="1.4"/>
<g transform="translate(303,181.65) scale(0.78) translate(-303,-181.65)">
<circle cx="303.00" cy="181.65" r="2.0" fill="#fff" stroke="#555" stroke-width="0.75"/>
</g>
<text x="313.90" y="184.95" font-size="9.3" font-weight="normal" text-anchor="start" fill="#2a2a2a"  textLength="75.8" lengthAdjust="spacingAndGlyphs">BHI+0.5M NaCl</text>
<line x1="293.50" y1="199.82" x2="312.50" y2="199.82" stroke="#111" stroke-width="1.4"/>
<g transform="translate(303,199.82) scale(0.78) translate(-303,-199.82)">
<path d="M303.00,197.12L305.50,201.72L300.50,201.72Z" fill="#000"/>
</g>
<text x="313.90" y="203.12" font-size="9.3" font-weight="normal" text-anchor="start" fill="#2a2a2a"  textLength="75.8" lengthAdjust="spacingAndGlyphs">BHI+0.6M NaCl</text>
<line x1="293.50" y1="217.99" x2="312.50" y2="217.99" stroke="#111" stroke-width="1.4"/>
<g transform="translate(303,217.99) scale(0.78) translate(-303,-217.99)">
<path d="M303.00,215.59L305.30,219.79L300.70,219.79Z" fill="#000"/>
</g>
<text x="313.90" y="221.29" font-size="9.3" font-weight="normal" text-anchor="start" fill="#2a2a2a"  textLength="75.8" lengthAdjust="spacingAndGlyphs">BHI+0.8M NaCl</text>
<line x1="293.50" y1="236.16" x2="312.50" y2="236.16" stroke="#111" stroke-width="1.4"/>
<text x="313.90" y="239.46" font-size="9.3" font-weight="normal" text-anchor="start" fill="#2a2a2a"  textLength="75.8" lengthAdjust="spacingAndGlyphs">BHI+1.0M NaCl</text>
<text x="413.60" y="41.60" font-size="30" font-weight="bold" text-anchor="start" fill="#000" >B</text>
<rect x="496.40" y="50.80" width="5.40" height="5.40" fill="#000" />
<text x="505.00" y="56.70" font-size="10.9" font-weight="normal" text-anchor="start" fill="#2a2a2a"  textLength="83.4" lengthAdjust="spacingAndGlyphs">BHI+1% sucrose</text>
<line x1="475.80" y1="56.80" x2="475.80" y2="244.50" stroke="#111" stroke-width="1.5"/>
<line x1="471.60" y1="244.00" x2="475.80" y2="244.00" stroke="#111" stroke-width="1.2"/>
<text x="466.50" y="247.80" font-size="11" font-weight="normal" text-anchor="end" fill="#444" >0</text>
<line x1="471.60" y1="220.60" x2="475.80" y2="220.60" stroke="#111" stroke-width="1.2"/>
<text x="466.50" y="224.40" font-size="11" font-weight="normal" text-anchor="end" fill="#444" >0.2</text>
<line x1="471.60" y1="197.20" x2="475.80" y2="197.20" stroke="#111" stroke-width="1.2"/>
<text x="466.50" y="201.00" font-size="11" font-weight="normal" text-anchor="end" fill="#444" >0.4</text>
<line x1="471.60" y1="173.80" x2="475.80" y2="173.80" stroke="#111" stroke-width="1.2"/>
<text x="466.50" y="177.60" font-size="11" font-weight="normal" text-anchor="end" fill="#444" >0.6</text>
<line x1="471.60" y1="150.40" x2="475.80" y2="150.40" stroke="#111" stroke-width="1.2"/>
<text x="466.50" y="154.20" font-size="11" font-weight="normal" text-anchor="end" fill="#444" >0.8</text>
<line x1="471.60" y1="127.00" x2="475.80" y2="127.00" stroke="#111" stroke-width="1.2"/>
<text x="466.50" y="130.80" font-size="11" font-weight="normal" text-anchor="end" fill="#444" >1</text>
<line x1="471.60" y1="103.60" x2="475.80" y2="103.60" stroke="#111" stroke-width="1.2"/>
<text x="466.50" y="107.40" font-size="11" font-weight="normal" text-anchor="end" fill="#444" >1.2</text>
<line x1="471.60" y1="80.20" x2="475.80" y2="80.20" stroke="#111" stroke-width="1.2"/>
<text x="466.50" y="84.00" font-size="11" font-weight="normal" text-anchor="end" fill="#444" >1.4</text>
<line x1="471.60" y1="56.80" x2="475.80" y2="56.80" stroke="#111" stroke-width="1.2"/>
<text x="466.50" y="60.60" font-size="11" font-weight="normal" text-anchor="end" fill="#444" >1.6</text>
<line x1="475.10" y1="244.00" x2="795.80" y2="244.00" stroke="#111" stroke-width="1.5"/>
<line x1="475.80" y1="244.00" x2="475.80" y2="248.00" stroke="#111" stroke-width="1.2"/>
<line x1="515.80" y1="244.00" x2="515.80" y2="248.00" stroke="#111" stroke-width="1.2"/>
<line x1="555.80" y1="244.00" x2="555.80" y2="248.00" stroke="#111" stroke-width="1.2"/>
<line x1="595.80" y1="244.00" x2="595.80" y2="248.00" stroke="#111" stroke-width="1.2"/>
<line x1="635.80" y1="244.00" x2="635.80" y2="248.00" stroke="#111" stroke-width="1.2"/>
<line x1="675.80" y1="244.00" x2="675.80" y2="248.00" stroke="#111" stroke-width="1.2"/>
<line x1="715.80" y1="244.00" x2="715.80" y2="248.00" stroke="#111" stroke-width="1.2"/>
<line x1="755.80" y1="244.00" x2="755.80" y2="248.00" stroke="#111" stroke-width="1.2"/>
<line x1="795.80" y1="244.00" x2="795.80" y2="248.00" stroke="#111" stroke-width="1.2"/>
<rect x="487.60" y="84.88" width="16.40" height="159.12" fill="#000" />
<line x1="495.80" y1="72.01" x2="495.80" y2="84.88" stroke="#333" stroke-width="1.1"/>
<line x1="492.80" y1="72.01" x2="498.80" y2="72.01" stroke="#333" stroke-width="1.1"/>
<text x="495.80" y="261.20" font-size="11" font-weight="normal" text-anchor="middle" fill="#333" >control</text>
<rect x="527.60" y="88.39" width="16.40" height="155.61" fill="#000" />
<line x1="535.80" y1="77.86" x2="535.80" y2="88.39" stroke="#333" stroke-width="1.1"/>
<line x1="532.80" y1="77.86" x2="538.80" y2="77.86" stroke="#333" stroke-width="1.1"/>
<text x="535.80" y="261.20" font-size="11" font-weight="normal" text-anchor="middle" fill="#333" >0.05M</text>
<text x="535.80" y="274.20" font-size="11" font-weight="normal" text-anchor="middle" fill="#333" >NaCl</text>
<rect x="567.60" y="88.39" width="16.40" height="155.61" fill="#000" />
<line x1="575.80" y1="74.35" x2="575.80" y2="88.39" stroke="#333" stroke-width="1.1"/>
<line x1="572.80" y1="74.35" x2="578.80" y2="74.35" stroke="#333" stroke-width="1.1"/>
<text x="575.80" y="261.20" font-size="11" font-weight="normal" text-anchor="middle" fill="#333" >0.1M</text>
<text x="575.80" y="274.20" font-size="11" font-weight="normal" text-anchor="middle" fill="#333" >NaCl</text>
<rect x="607.60" y="115.30" width="16.40" height="128.70" fill="#000" />
<line x1="615.80" y1="105.94" x2="615.80" y2="115.30" stroke="#333" stroke-width="1.1"/>
<line x1="612.80" y1="105.94" x2="618.80" y2="105.94" stroke="#333" stroke-width="1.1"/>
<text x="612.90" y="108.00" font-size="18" font-weight="bold" text-anchor="middle" fill="#111">*</text>
<text x="615.80" y="261.20" font-size="11" font-weight="normal" text-anchor="middle" fill="#333" >0.2M</text>
<text x="615.80" y="274.20" font-size="11" font-weight="normal" text-anchor="middle" fill="#333" >NaCl</text>
<rect x="647.60" y="173.80" width="16.40" height="70.20" fill="#000" />
<line x1="655.80" y1="169.70" x2="655.80" y2="173.80" stroke="#333" stroke-width="1.1"/>
<line x1="652.80" y1="169.70" x2="658.80" y2="169.70" stroke="#333" stroke-width="1.1"/>
<text x="652.50" y="168.30" font-size="18" font-weight="bold" text-anchor="middle" fill="#111">*</text>
<text x="655.80" y="261.20" font-size="11" font-weight="normal" text-anchor="middle" fill="#333" >0.4M</text>
<text x="655.80" y="274.20" font-size="11" font-weight="normal" text-anchor="middle" fill="#333" >NaCl</text>
<rect x="687.60" y="188.43" width="16.40" height="55.57" fill="#000" />
<line x1="695.80" y1="184.33" x2="695.80" y2="188.43" stroke="#333" stroke-width="1.1"/>
<line x1="692.80" y1="184.33" x2="698.80" y2="184.33" stroke="#333" stroke-width="1.1"/>
<text x="694.80" y="183.00" font-size="18" font-weight="bold" text-anchor="middle" fill="#111">*</text>
<text x="695.80" y="261.20" font-size="11" font-weight="normal" text-anchor="middle" fill="#333" >0.6M</text>
<text x="695.80" y="274.20" font-size="11" font-weight="normal" text-anchor="middle" fill="#333" >NaCl</text>
<rect x="727.60" y="203.05" width="16.40" height="40.95" fill="#000" />
<line x1="735.80" y1="201.53" x2="735.80" y2="203.05" stroke="#333" stroke-width="1.1"/>
<line x1="732.80" y1="201.53" x2="738.80" y2="201.53" stroke="#333" stroke-width="1.1"/>
<text x="733.00" y="198.50" font-size="18" font-weight="bold" text-anchor="middle" fill="#111">*</text>
<text x="735.80" y="261.20" font-size="11" font-weight="normal" text-anchor="middle" fill="#333" >0.8M</text>
<text x="735.80" y="274.20" font-size="11" font-weight="normal" text-anchor="middle" fill="#333" >NaCl</text>
<rect x="767.60" y="219.66" width="16.40" height="24.34" fill="#000" />
<line x1="775.80" y1="219.08" x2="775.80" y2="219.66" stroke="#333" stroke-width="1.1"/>
<line x1="772.80" y1="219.08" x2="778.80" y2="219.08" stroke="#333" stroke-width="1.1"/>
<text x="770.50" y="219.20" font-size="18" font-weight="bold" text-anchor="middle" fill="#111">*</text>
<text x="775.80" y="261.20" font-size="11" font-weight="normal" text-anchor="middle" fill="#333" >1.0M</text>
<text x="775.80" y="274.20" font-size="11" font-weight="normal" text-anchor="middle" fill="#333" >NaCl</text>
<text transform="translate(432.3,146.5) rotate(-90)" font-size="14.2" font-weight="bold" fill="#111" text-anchor="middle">biofilm&#160;&#160;biomass (OD<tspan font-size="9.6" dx="2.5" dy="2.4">595nm</tspan><tspan dy="-2.4">)</tspan></text>
<text x="813.20" y="41.60" font-size="29" font-weight="bold" text-anchor="start" fill="#000" >C</text>
<rect x="888.90" y="37.70" width="4.30" height="5.60" fill="#000" />
<text x="895.80" y="43.30" font-size="10.5" font-weight="normal" text-anchor="start" fill="#2a2a2a"  textLength="77.9" lengthAdjust="spacingAndGlyphs">BHI+1% sucrose</text>
<line x1="879.80" y1="63.56" x2="879.80" y2="247.10" stroke="#111" stroke-width="1.5"/>
<line x1="875.60" y1="246.60" x2="879.80" y2="246.60" stroke="#111" stroke-width="1.2"/>
<text x="870.50" y="250.30" font-size="10.6" font-weight="normal" text-anchor="end" fill="#444" >0</text>
<line x1="875.60" y1="223.72" x2="879.80" y2="223.72" stroke="#111" stroke-width="1.2"/>
<text x="870.50" y="227.42" font-size="10.6" font-weight="normal" text-anchor="end" fill="#444" >0.2</text>
<line x1="875.60" y1="200.84" x2="879.80" y2="200.84" stroke="#111" stroke-width="1.2"/>
<text x="870.50" y="204.54" font-size="10.6" font-weight="normal" text-anchor="end" fill="#444" >0.4</text>
<line x1="875.60" y1="177.96" x2="879.80" y2="177.96" stroke="#111" stroke-width="1.2"/>
<text x="870.50" y="181.66" font-size="10.6" font-weight="normal" text-anchor="end" fill="#444" >0.6</text>
<line x1="875.60" y1="155.08" x2="879.80" y2="155.08" stroke="#111" stroke-width="1.2"/>
<text x="870.50" y="158.78" font-size="10.6" font-weight="normal" text-anchor="end" fill="#444" >0.8</text>
<line x1="875.60" y1="132.20" x2="879.80" y2="132.20" stroke="#111" stroke-width="1.2"/>
<text x="870.50" y="135.90" font-size="10.6" font-weight="normal" text-anchor="end" fill="#444" >1</text>
<line x1="875.60" y1="109.32" x2="879.80" y2="109.32" stroke="#111" stroke-width="1.2"/>
<text x="870.50" y="113.02" font-size="10.6" font-weight="normal" text-anchor="end" fill="#444" >1.2</text>
<line x1="875.60" y1="86.44" x2="879.80" y2="86.44" stroke="#111" stroke-width="1.2"/>
<text x="870.50" y="90.14" font-size="10.6" font-weight="normal" text-anchor="end" fill="#444" >1.4</text>
<line x1="875.60" y1="63.56" x2="879.80" y2="63.56" stroke="#111" stroke-width="1.2"/>
<text x="870.50" y="67.26" font-size="10.6" font-weight="normal" text-anchor="end" fill="#444" >1.6</text>
<line x1="879.10" y1="246.60" x2="1193.50" y2="246.60" stroke="#111" stroke-width="1.5"/>
<line x1="879.80" y1="246.60" x2="879.80" y2="250.60" stroke="#111" stroke-width="1.2"/>
<line x1="1036.65" y1="246.60" x2="1036.65" y2="250.60" stroke="#111" stroke-width="1.2"/>
<line x1="1193.50" y1="246.60" x2="1193.50" y2="250.60" stroke="#111" stroke-width="1.2"/>
<rect x="936.30" y="78.70" width="45.60" height="167.90" fill="#000" />
<line x1="959.10" y1="72.20" x2="959.10" y2="78.70" stroke="#333" stroke-width="1.1"/>
<line x1="956.30" y1="72.20" x2="961.90" y2="72.20" stroke="#333" stroke-width="1.1"/>
<rect x="1092.70" y="144.90" width="46.00" height="101.70" fill="#000" />
<line x1="1115.70" y1="141.40" x2="1115.70" y2="144.90" stroke="#333" stroke-width="1.1"/>
<line x1="1112.90" y1="141.40" x2="1118.50" y2="141.40" stroke="#333" stroke-width="1.1"/>
<path d="M960.7,67.8V51.6H1118V66.8" fill="none" stroke="#111" stroke-width="1.5"/>
<text x="1038.00" y="55.20" font-size="17" font-weight="bold" text-anchor="middle" fill="#111" >*</text>
<text x="959.20" y="263.60" font-size="10.6" font-weight="normal" text-anchor="middle" fill="#333" >24 h biofilm (control)</text>
<text x="1038.60" y="263.60" font-size="10.6" font-weight="normal" text-anchor="start" fill="#333"  textLength="152.5" lengthAdjust="spacingAndGlyphs">24 h biofilm + 0.4 M&#160;&#160;NaCl 15 min</text>
<text transform="translate(836.3,150.3) rotate(-90)" font-size="14.2" font-weight="bold" fill="#111" text-anchor="middle">biofilm&#160;&#160;biomass (OD<tspan font-size="9.6" dx="2.5" dy="2.4">595nm</tspan><tspan dy="-2.4">)</tspan></text>
<text x="21.20" y="309.80" font-size="29" font-weight="bold" text-anchor="start" fill="#000" >D</text>
<rect x="66.00" y="318.50" width="648.40" height="472.70" fill="#000" />
<filter id="fTG" x="-140" y="-140" width="500" height="500" filterUnits="userSpaceOnUse" color-interpolation-filters="sRGB"><feGaussianBlur in="SourceGraphic" stdDeviation="12" result="base"/><feTurbulence type="fractalNoise" baseFrequency="0.22" numOctaves="2" seed="11" result="t1"/><feComponentTransfer in="t1" result="f1"><feFuncA type="linear" slope="0" intercept="1"/></feComponentTransfer><feTurbulence type="fractalNoise" baseFrequency="0.045" numOctaves="2" seed="17" result="t2"/><feComponentTransfer in="t2" result="c1"><feFuncA type="linear" slope="0" intercept="1"/></feComponentTransfer><feComposite in="f1" in2="c1" operator="arithmetic" k1="0" k2="1" k3="0.8" k4="-0.4" result="s1"/><feComposite in="s1" in2="base" operator="arithmetic" k1="0" k2="1" k3="1.0" k4="-0.5" result="s2"/><feColorMatrix in="s2" type="matrix" values="1 -0.4 0 0 0.2  -0.4 1 0 0 0.2  0 0 0 0 0  0 0 0 1 0" result="s3"/><feComponentTransfer in="s3" result="o0"><feFuncR type="linear" slope="0" intercept="0"/><feFuncG type="linear" slope="1.9" intercept="-0.6"/><feFuncB type="linear" slope="0" intercept="0"/><feFuncA type="linear" slope="0" intercept="1"/></feComponentTransfer><feColorMatrix in="o0" type="matrix" values="1 0.1 0 0 0  0 0.68 0 0 0  0 0.1 0 0 0  0 0 0 1 0" result="o1"/><feGaussianBlur in="o1" stdDeviation="0.7"/></filter>
<filter id="fTR" x="-140" y="-140" width="500" height="500" filterUnits="userSpaceOnUse" color-interpolation-filters="sRGB"><feGaussianBlur in="SourceGraphic" stdDeviation="12" result="base"/><feTurbulence type="fractalNoise" baseFrequency="0.22" numOctaves="2" seed="11" result="t1"/><feComponentTransfer in="t1" result="f1"><feFuncA type="linear" slope="0" intercept="1"/></feComponentTransfer><feTurbulence type="fractalNoise" baseFrequency="0.045" numOctaves="2" seed="17" result="t2"/><feComponentTransfer in="t2" result="c1"><feFuncA type="linear" slope="0" intercept="1"/></feComponentTransfer><feComposite in="f1" in2="c1" operator="arithmetic" k1="0" k2="1" k3="0.8" k4="-0.4" result="s1"/><feComposite in="s1" in2="base" operator="arithmetic" k1="0" k2="1" k3="1.0" k4="-0.5" result="s2"/><feColorMatrix in="s2" type="matrix" values="1 -0.4 0 0 0.2  -0.4 1 0 0 0.2  0 0 0 0 0  0 0 0 1 0" result="s3"/><feComponentTransfer in="s3" result="o0"><feFuncR type="linear" slope="1.85" intercept="-0.47"/><feFuncG type="linear" slope="0" intercept="0"/><feFuncB type="linear" slope="0" intercept="0"/><feFuncA type="linear" slope="0" intercept="1"/></feComponentTransfer><feColorMatrix in="o0" type="matrix" values="0.55 0 0 0 0  0 1 0 0 0  0.04 0 0 0 0  0 0 0 1 0" result="o1"/><feGaussianBlur in="o1" stdDeviation="0.7"/></filter>
<filter id="fTM" x="-140" y="-140" width="500" height="500" filterUnits="userSpaceOnUse" color-interpolation-filters="sRGB"><feGaussianBlur in="SourceGraphic" stdDeviation="12" result="base"/><feTurbulence type="fractalNoise" baseFrequency="0.22" numOctaves="2" seed="11" result="t1"/><feComponentTransfer in="t1" result="f1"><feFuncA type="linear" slope="0" intercept="1"/></feComponentTransfer><feTurbulence type="fractalNoise" baseFrequency="0.045" numOctaves="2" seed="17" result="t2"/><feComponentTransfer in="t2" result="c1"><feFuncA type="linear" slope="0" intercept="1"/></feComponentTransfer><feComposite in="f1" in2="c1" operator="arithmetic" k1="0" k2="1" k3="0.8" k4="-0.4" result="s1"/><feComposite in="s1" in2="base" operator="arithmetic" k1="0" k2="1" k3="1.0" k4="-0.5" result="s2"/><feColorMatrix in="s2" type="matrix" values="1 -0.3 0 0 0.15  -0.3 1 0 0 0.15  0 0 0 0 0  0 0 0 1 0" result="s3"/><feComponentTransfer in="s3" result="o0"><feFuncR type="linear" slope="2.0" intercept="-0.56"/><feFuncG type="linear" slope="2.0" intercept="-0.72"/><feFuncB type="linear" slope="0" intercept="0"/><feFuncA type="linear" slope="0" intercept="1"/></feComponentTransfer><feColorMatrix in="o0" type="matrix" values="0.74 0.45 0 0 0  0 0.82 0 0 0  0 0 0 0 0  0 0 0 1 0" result="o1"/><feGaussianBlur in="o1" stdDeviation="0.7"/></filter>
<filter id="fBG" x="-140" y="-140" width="500" height="500" filterUnits="userSpaceOnUse" color-interpolation-filters="sRGB"><feGaussianBlur in="SourceGraphic" stdDeviation="12" result="base"/><feTurbulence type="fractalNoise" baseFrequency="0.22" numOctaves="2" seed="31" result="t1"/><feComponentTransfer in="t1" result="f1"><feFuncA type="linear" slope="0" intercept="1"/></feComponentTransfer><feTurbulence type="fractalNoise" baseFrequency="0.055" numOctaves="2" seed="37" result="t2"/><feComponentTransfer in="t2" result="c1"><feFuncA type="linear" slope="0" intercept="1"/></feComponentTransfer><feComposite in="f1" in2="c1" operator="arithmetic" k1="0" k2="1" k3="0.9" k4="-0.45" result="s1"/><feComposite in="s1" in2="base" operator="arithmetic" k1="0" k2="1" k3="1.0" k4="-0.5" result="s2"/><feColorMatrix in="s2" type="matrix" values="1 0 0 0 0.0  0.7 0.30000000000000004 0 0 0.0  0 0 0 0 0  0 0 0 1 0" result="s3"/><feComponentTransfer in="s3" result="o0"><feFuncR type="linear" slope="0" intercept="0"/><feFuncG type="linear" slope="1.9" intercept="-1.05"/><feFuncB type="linear" slope="0" intercept="0"/><feFuncA type="linear" slope="0" intercept="1"/></feComponentTransfer><feColorMatrix in="o0" type="matrix" values="1 0.08 0 0 0  0 0.78 0 0 0  0 0.08 0 0 0  0 0 0 1 0" result="o1"/><feGaussianBlur in="o1" stdDeviation="0.7"/></filter>
<filter id="fBR" x="-140" y="-140" width="500" height="500" filterUnits="userSpaceOnUse" color-interpolation-filters="sRGB"><feGaussianBlur in="SourceGraphic" stdDeviation="12" result="base"/><feTurbulence type="fractalNoise" baseFrequency="0.22" numOctaves="2" seed="31" result="t1"/><feComponentTransfer in="t1" result="f1"><feFuncA type="linear" slope="0" intercept="1"/></feComponentTransfer><feTurbulence type="fractalNoise" baseFrequency="0.055" numOctaves="2" seed="37" result="t2"/><feComponentTransfer in="t2" result="c1"><feFuncA type="linear" slope="0" intercept="1"/></feComponentTransfer><feComposite in="f1" in2="c1" operator="arithmetic" k1="0" k2="1" k3="0.9" k4="-0.45" result="s1"/><feComposite in="s1" in2="base" operator="arithmetic" k1="0" k2="1" k3="1.0" k4="-0.5" result="s2"/><feColorMatrix in="s2" type="matrix" values="1 0 0 0 0.0  0.0 1.0 0 0 0.0  0 0 0 0 0  0 0 0 1 0" result="s3"/><feComponentTransfer in="s3" result="o0"><feFuncR type="linear" slope="2.4" intercept="-1.28"/><feFuncG type="linear" slope="0" intercept="0"/><feFuncB type="linear" slope="0" intercept="0"/><feFuncA type="linear" slope="0" intercept="1"/></feComponentTransfer><feColorMatrix in="o0" type="matrix" values="1.0 0 0 0 0  0 1 0 0 0  0 0 0 0 0  0 0 0 1 0" result="o1"/><feGaussianBlur in="o1" stdDeviation="0.7"/></filter>
<filter id="fBM" x="-140" y="-140" width="500" height="500" filterUnits="userSpaceOnUse" color-interpolation-filters="sRGB"><feGaussianBlur in="SourceGraphic" stdDeviation="12" result="base"/><feTurbulence type="fractalNoise" baseFrequency="0.22" numOctaves="2" seed="31" result="t1"/><feComponentTransfer in="t1" result="f1"><feFuncA type="linear" slope="0" intercept="1"/></feComponentTransfer><feTurbulence type="fractalNoise" baseFrequency="0.055" numOctaves="2" seed="37" result="t2"/><feComponentTransfer in="t2" result="c1"><feFuncA type="linear" slope="0" intercept="1"/></feComponentTransfer><feComposite in="f1" in2="c1" operator="arithmetic" k1="0" k2="1" k3="0.9" k4="-0.45" result="s1"/><feComposite in="s1" in2="base" operator="arithmetic" k1="0" k2="1" k3="1.0" k4="-0.5" result="s2"/><feColorMatrix in="s2" type="matrix" values="1 0 0 0 0.0  0.7 0.30000000000000004 0 0 0.0  0 0 0 0 0  0 0 0 1 0" result="s3"/><feComponentTransfer in="s3" result="o0"><feFuncR type="linear" slope="2.4" intercept="-1.28"/><feFuncG type="linear" slope="1.9" intercept="-1.05"/><feFuncB type="linear" slope="0" intercept="0"/><feFuncA type="linear" slope="0" intercept="1"/></feComponentTransfer><feColorMatrix in="o0" type="matrix" values="0.95 0.1 0 0 0  0 0.95 0 0 0  0 0 0 0 0  0 0 0 1 0" result="o1"/><feGaussianBlur in="o1" stdDeviation="0.7"/></filter>
<clipPath id="cTG"><rect x="0" y="0" width="205.20" height="221.40"/></clipPath>
<g transform="translate(76.00,326.80)" clip-path="url(#cTG)"><g filter="url(#fTG)" transform="rotate(27)"><g transform="rotate(-27)">
<rect x="-12.00" y="-12.00" width="33.02" height="34.64" fill="rgb(127,153,0)"/>
<rect x="20.52" y="-12.00" width="21.02" height="34.64" fill="rgb(127,153,0)"/>
<rect x="41.04" y="-12.00" width="21.02" height="34.64" fill="rgb(114,140,0)"/>
<rect x="61.56" y="-12.00" width="21.02" height="34.64" fill="rgb(114,114,0)"/>
<rect x="82.08" y="-12.00" width="21.02" height="34.64" fill="rgb(114,127,0)"/>
<rect x="102.60" y="-12.00" width="21.02" height="34.64" fill="rgb(127,127,0)"/>
<rect x="123.12" y="-12.00" width="21.02" height="34.64" fill="rgb(127,153,0)"/>
<rect x="143.64" y="-12.00" width="21.02" height="34.64" fill="rgb(140,153,0)"/>
<rect x="164.16" y="-12.00" width="21.02" height="34.64" fill="rgb(140,140,0)"/>
<rect x="184.68" y="-12.00" width="33.02" height="34.64" fill="rgb(127,140,0)"/>
<rect x="-12.00" y="22.14" width="33.02" height="22.64" fill="rgb(127,153,0)"/>
<rect x="20.52" y="22.14" width="21.02" height="22.64" fill="rgb(127,153,0)"/>
<rect x="41.04" y="22.14" width="21.02" height="22.64" fill="rgb(114,140,0)"/>
<rect x="61.56" y="22.14" width="21.02" height="22.64" fill="rgb(114,114,0)"/>
<rect x="82.08" y="22.14" width="21.02" height="22.64" fill="rgb(114,127,0)"/>
<rect x="102.60" y="22.14" width="21.02" height="22.64" fill="rgb(127,140,0)"/>
<rect x="123.12" y="22.14" width="21.02" height="22.64" fill="rgb(140,165,0)"/>
<rect x="143.64" y="22.14" width="21.02" height="22.64" fill="rgb(153,140,0)"/>
<rect x="164.16" y="22.14" width="21.02" height="22.64" fill="rgb(153,127,0)"/>
<rect x="184.68" y="22.14" width="33.02" height="22.64" fill="rgb(140,140,0)"/>
<rect x="-12.00" y="44.28" width="33.02" height="22.64" fill="rgb(140,127,0)"/>
<rect x="20.52" y="44.28" width="21.02" height="22.64" fill="rgb(140,102,0)"/>
<rect x="41.04" y="44.28" width="21.02" height="22.64" fill="rgb(127,102,0)"/>
<rect x="61.56" y="44.28" width="21.02" height="22.64" fill="rgb(114,114,0)"/>
<rect x="82.08" y="44.28" width="21.02" height="22.64" fill="rgb(114,140,0)"/>
<rect x="102.60" y="44.28" width="21.02" height="22.64" fill="rgb(127,140,0)"/>
<rect x="123.12" y="44.28" width="21.02" height="22.64" fill="rgb(140,127,0)"/>
<rect x="143.64" y="44.28" width="21.02" height="22.64" fill="rgb(153,114,0)"/>
<rect x="164.16" y="44.28" width="21.02" height="22.64" fill="rgb(153,140,0)"/>
<rect x="184.68" y="44.28" width="33.02" height="22.64" fill="rgb(140,153,0)"/>
<rect x="-12.00" y="66.42" width="33.02" height="22.64" fill="rgb(153,114,0)"/>
<rect x="20.52" y="66.42" width="21.02" height="22.64" fill="rgb(140,89,0)"/>
<rect x="41.04" y="66.42" width="21.02" height="22.64" fill="rgb(127,89,0)"/>
<rect x="61.56" y="66.42" width="21.02" height="22.64" fill="rgb(114,127,0)"/>
<rect x="82.08" y="66.42" width="21.02" height="22.64" fill="rgb(114,153,0)"/>
<rect x="102.60" y="66.42" width="21.02" height="22.64" fill="rgb(127,140,0)"/>
<rect x="123.12" y="66.42" width="21.02" height="22.64" fill="rgb(140,114,0)"/>
<rect x="143.64" y="66.42" width="21.02" height="22.64" fill="rgb(153,114,0)"/>
<rect x="164.16" y="66.42" width="21.02" height="22.64" fill="rgb(140,153,0)"/>
<rect x="184.68" y="66.42" width="33.02" height="22.64" fill="rgb(140,153,0)"/>
<rect x="-12.00" y="88.56" width="33.02" height="22.64" fill="rgb(140,127,0)"/>
<rect x="20.52" y="88.56" width="21.02" height="22.64" fill="rgb(127,102,0)"/>
<rect x="41.04" y="88.56" width="21.02" height="22.64" fill="rgb(114,102,0)"/>
<rect x="61.56" y="88.56" width="21.02" height="22.64" fill="rgb(102,127,0)"/>
<rect x="82.08" y="88.56" width="21.02" height="22.64" fill="rgb(114,140,0)"/>
<rect x="102.60" y="88.56" width="21.02" height="22.64" fill="rgb(127,127,0)"/>
<rect x="123.12" y="88.56" width="21.02" height="22.64" fill="rgb(153,114,0)"/>
<rect x="143.64" y="88.56" width="21.02" height="22.64" fill="rgb(153,127,0)"/>
<rect x="164.16" y="88.56" width="21.02" height="22.64" fill="rgb(153,140,0)"/>
<rect x="184.68" y="88.56" width="33.02" height="22.64" fill="rgb(140,140,0)"/>
<rect x="-12.00" y="110.70" width="33.02" height="22.64" fill="rgb(127,140,0)"/>
<rect x="20.52" y="110.70" width="21.02" height="22.64" fill="rgb(114,127,0)"/>
<rect x="41.04" y="110.70" width="21.02" height="22.64" fill="rgb(114,114,0)"/>
<rect x="61.56" y="110.70" width="21.02" height="22.64" fill="rgb(102,127,0)"/>
<rect x="82.08" y="110.70" width="21.02" height="22.64" fill="rgb(114,140,0)"/>
<rect x="102.60" y="110.70" width="21.02" height="22.64" fill="rgb(140,127,0)"/>
<rect x="123.12" y="110.70" width="21.02" height="22.64" fill="rgb(165,127,0)"/>
<rect x="143.64" y="110.70" width="21.02" height="22.64" fill="rgb(153,165,0)"/>
<rect x="164.16" y="110.70" width="21.02" height="22.64" fill="rgb(153,165,0)"/>
<rect x="184.68" y="110.70" width="33.02" height="22.64" fill="rgb(153,127,0)"/>
<rect x="-12.00" y="132.84" width="33.02" height="22.64" fill="rgb(127,153,0)"/>
<rect x="20.52" y="132.84" width="21.02" height="22.64" fill="rgb(114,140,0)"/>
<rect x="41.04" y="132.84" width="21.02" height="22.64" fill="rgb(114,127,0)"/>
<rect x="61.56" y="132.84" width="21.02" height="22.64" fill="rgb(114,140,0)"/>
<rect x="82.08" y="132.84" width="21.02" height="22.64" fill="rgb(127,127,0)"/>
<rect x="102.60" y="132.84" width="21.02" height="22.64" fill="rgb(140,114,0)"/>
<rect x="123.12" y="132.84" width="21.02" height="22.64" fill="rgb(165,127,0)"/>
<rect x="143.64" y="132.84" width="21.02" height="22.64" fill="rgb(165,140,0)"/>
<rect x="164.16" y="132.84" width="21.02" height="22.64" fill="rgb(153,140,0)"/>
<rect x="184.68" y="132.84" width="33.02" height="22.64" fill="rgb(140,140,0)"/>
<rect x="-12.00" y="154.98" width="33.02" height="22.64" fill="rgb(114,153,0)"/>
<rect x="20.52" y="154.98" width="21.02" height="22.64" fill="rgb(114,140,0)"/>
<rect x="41.04" y="154.98" width="21.02" height="22.64" fill="rgb(114,140,0)"/>
<rect x="61.56" y="154.98" width="21.02" height="22.64" fill="rgb(114,153,0)"/>
<rect x="82.08" y="154.98" width="21.02" height="22.64" fill="rgb(127,140,0)"/>
<rect x="102.60" y="154.98" width="21.02" height="22.64" fill="rgb(140,114,0)"/>
<rect x="123.12" y="154.98" width="21.02" height="22.64" fill="rgb(153,114,0)"/>
<rect x="143.64" y="154.98" width="21.02" height="22.64" fill="rgb(165,127,0)"/>
<rect x="164.16" y="154.98" width="21.02" height="22.64" fill="rgb(140,140,0)"/>
<rect x="184.68" y="154.98" width="33.02" height="22.64" fill="rgb(140,153,0)"/>
<rect x="-12.00" y="177.12" width="33.02" height="22.64" fill="rgb(114,165,0)"/>
<rect x="20.52" y="177.12" width="21.02" height="22.64" fill="rgb(114,153,0)"/>
<rect x="41.04" y="177.12" width="21.02" height="22.64" fill="rgb(114,153,0)"/>
<rect x="61.56" y="177.12" width="21.02" height="22.64" fill="rgb(114,165,0)"/>
<rect x="82.08" y="177.12" width="21.02" height="22.64" fill="rgb(127,153,0)"/>
<rect x="102.60" y="177.12" width="21.02" height="22.64" fill="rgb(127,127,0)"/>
<rect x="123.12" y="177.12" width="21.02" height="22.64" fill="rgb(140,127,0)"/>
<rect x="143.64" y="177.12" width="21.02" height="22.64" fill="rgb(140,127,0)"/>
<rect x="164.16" y="177.12" width="21.02" height="22.64" fill="rgb(127,140,0)"/>
<rect x="184.68" y="177.12" width="33.02" height="22.64" fill="rgb(127,153,0)"/>
<rect x="-12.00" y="199.26" width="33.02" height="34.64" fill="rgb(114,165,0)"/>
<rect x="20.52" y="199.26" width="21.02" height="34.64" fill="rgb(114,153,0)"/>
<rect x="41.04" y="199.26" width="21.02" height="34.64" fill="rgb(114,165,0)"/>
<rect x="61.56" y="199.26" width="21.02" height="34.64" fill="rgb(114,178,0)"/>
<rect x="82.08" y="199.26" width="21.02" height="34.64" fill="rgb(114,165,0)"/>
<rect x="102.60" y="199.26" width="21.02" height="34.64" fill="rgb(127,140,0)"/>
<rect x="123.12" y="199.26" width="21.02" height="34.64" fill="rgb(127,127,0)"/>
<rect x="143.64" y="199.26" width="21.02" height="34.64" fill="rgb(127,127,0)"/>
<rect x="164.16" y="199.26" width="21.02" height="34.64" fill="rgb(127,140,0)"/>
<rect x="184.68" y="199.26" width="33.02" height="34.64" fill="rgb(127,140,0)"/>
</g></g></g>
<clipPath id="cTR"><rect x="0" y="0" width="205.20" height="221.40"/></clipPath>
<g transform="translate(287.80,326.80)" clip-path="url(#cTR)"><g filter="url(#fTR)" transform="rotate(27)"><g transform="rotate(-27)">
<rect x="-12.00" y="-12.00" width="33.02" height="34.64" fill="rgb(127,153,0)"/>
<rect x="20.52" y="-12.00" width="21.02" height="34.64" fill="rgb(127,153,0)"/>
<rect x="41.04" y="-12.00" width="21.02" height="34.64" fill="rgb(114,140,0)"/>
<rect x="61.56" y="-12.00" width="21.02" height="34.64" fill="rgb(114,114,0)"/>
<rect x="82.08" y="-12.00" width="21.02" height="34.64" fill="rgb(114,127,0)"/>
<rect x="102.60" y="-12.00" width="21.02" height="34.64" fill="rgb(127,127,0)"/>
<rect x="123.12" y="-12.00" width="21.02" height="34.64" fill="rgb(127,153,0)"/>
<rect x="143.64" y="-12.00" width="21.02" height="34.64" fill="rgb(140,153,0)"/>
<rect x="164.16" y="-12.00" width="21.02" height="34.64" fill="rgb(140,140,0)"/>
<rect x="184.68" y="-12.00" width="33.02" height="34.64" fill="rgb(127,140,0)"/>
<rect x="-12.00" y="22.14" width="33.02" height="22.64" fill="rgb(127,153,0)"/>
<rect x="20.52" y="22.14" width="21.02" height="22.64" fill="rgb(127,153,0)"/>
<rect x="41.04" y="22.14" width="21.02" height="22.64" fill="rgb(114,140,0)"/>
<rect x="61.56" y="22.14" width="21.02" height="22.64" fill="rgb(114,114,0)"/>
<rect x="82.08" y="22.14" width="21.02" height="22.64" fill="rgb(114,127,0)"/>
<rect x="102.60" y="22.14" width="21.02" height="22.64" fill="rgb(127,140,0)"/>
<rect x="123.12" y="22.14" width="21.02" height="22.64" fill="rgb(140,165,0)"/>
<rect x="143.64" y="22.14" width="21.02" height="22.64" fill="rgb(153,140,0)"/>
<rect x="164.16" y="22.14" width="21.02" height="22.64" fill="rgb(153,127,0)"/>
<rect x="184.68" y="22.14" width="33.02" height="22.64" fill="rgb(140,140,0)"/>
<rect x="-12.00" y="44.28" width="33.02" height="22.64" fill="rgb(140,127,0)"/>
<rect x="20.52" y="44.28" width="21.02" height="22.64" fill="rgb(140,102,0)"/>
<rect x="41.04" y="44.28" width="21.02" height="22.64" fill="rgb(127,102,0)"/>
<rect x="61.56" y="44.28" width="21.02" height="22.64" fill="rgb(114,114,0)"/>
<rect x="82.08" y="44.28" width="21.02" height="22.64" fill="rgb(114,140,0)"/>
<rect x="102.60" y="44.28" width="21.02" height="22.64" fill="rgb(127,140,0)"/>
<rect x="123.12" y="44.28" width="21.02" height="22.64" fill="rgb(140,127,0)"/>
<rect x="143.64" y="44.28" width="21.02" height="22.64" fill="rgb(153,114,0)"/>
<rect x="164.16" y="44.28" width="21.02" height="22.64" fill="rgb(153,140,0)"/>
<rect x="184.68" y="44.28" width="33.02" height="22.64" fill="rgb(140,153,0)"/>
<rect x="-12.00" y="66.42" width="33.02" height="22.64" fill="rgb(153,114,0)"/>
<rect x="20.52" y="66.42" width="21.02" height="22.64" fill="rgb(140,89,0)"/>
<rect x="41.04" y="66.42" width="21.02" height="22.64" fill="rgb(127,89,0)"/>
<rect x="61.56" y="66.42" width="21.02" height="22.64" fill="rgb(114,127,0)"/>
<rect x="82.08" y="66.42" width="21.02" height="22.64" fill="rgb(114,153,0)"/>
<rect x="102.60" y="66.42" width="21.02" height="22.64" fill="rgb(127,140,0)"/>
<rect x="123.12" y="66.42" width="21.02" height="22.64" fill="rgb(140,114,0)"/>
<rect x="143.64" y="66.42" width="21.02" height="22.64" fill="rgb(153,114,0)"/>
<rect x="164.16" y="66.42" width="21.02" height="22.64" fill="rgb(140,153,0)"/>
<rect x="184.68" y="66.42" width="33.02" height="22.64" fill="rgb(140,153,0)"/>
<rect x="-12.00" y="88.56" width="33.02" height="22.64" fill="rgb(140,127,0)"/>
<rect x="20.52" y="88.56" width="21.02" height="22.64" fill="rgb(127,102,0)"/>
<rect x="41.04" y="88.56" width="21.02" height="22.64" fill="rgb(114,102,0)"/>
<rect x="61.56" y="88.56" width="21.02" height="22.64" fill="rgb(102,127,0)"/>
<rect x="82.08" y="88.56" width="21.02" height="22.64" fill="rgb(114,140,0)"/>
<rect x="102.60" y="88.56" width="21.02" height="22.64" fill="rgb(127,127,0)"/>
<rect x="123.12" y="88.56" width="21.02" height="22.64" fill="rgb(153,114,0)"/>
<rect x="143.64" y="88.56" width="21.02" height="22.64" fill="rgb(153,127,0)"/>
<rect x="164.16" y="88.56" width="21.02" height="22.64" fill="rgb(153,140,0)"/>
<rect x="184.68" y="88.56" width="33.02" height="22.64" fill="rgb(140,140,0)"/>
<rect x="-12.00" y="110.70" width="33.02" height="22.64" fill="rgb(127,140,0)"/>
<rect x="20.52" y="110.70" width="21.02" height="22.64" fill="rgb(114,127,0)"/>
<rect x="41.04" y="110.70" width="21.02" height="22.64" fill="rgb(114,114,0)"/>
<rect x="61.56" y="110.70" width="21.02" height="22.64" fill="rgb(102,127,0)"/>
<rect x="82.08" y="110.70" width="21.02" height="22.64" fill="rgb(114,140,0)"/>
<rect x="102.60" y="110.70" width="21.02" height="22.64" fill="rgb(140,127,0)"/>
<rect x="123.12" y="110.70" width="21.02" height="22.64" fill="rgb(165,127,0)"/>
<rect x="143.64" y="110.70" width="21.02" height="22.64" fill="rgb(153,165,0)"/>
<rect x="164.16" y="110.70" width="21.02" height="22.64" fill="rgb(153,165,0)"/>
<rect x="184.68" y="110.70" width="33.02" height="22.64" fill="rgb(153,127,0)"/>
<rect x="-12.00" y="132.84" width="33.02" height="22.64" fill="rgb(127,153,0)"/>
<rect x="20.52" y="132.84" width="21.02" height="22.64" fill="rgb(114,140,0)"/>
<rect x="41.04" y="132.84" width="21.02" height="22.64" fill="rgb(114,127,0)"/>
<rect x="61.56" y="132.84" width="21.02" height="22.64" fill="rgb(114,140,0)"/>
<rect x="82.08" y="132.84" width="21.02" height="22.64" fill="rgb(127,127,0)"/>
<rect x="102.60" y="132.84" width="21.02" height="22.64" fill="rgb(140,114,0)"/>
<rect x="123.12" y="132.84" width="21.02" height="22.64" fill="rgb(165,127,0)"/>
<rect x="143.64" y="132.84" width="21.02" height="22.64" fill="rgb(165,140,0)"/>
<rect x="164.16" y="132.84" width="21.02" height="22.64" fill="rgb(153,140,0)"/>
<rect x="184.68" y="132.84" width="33.02" height="22.64" fill="rgb(140,140,0)"/>
<rect x="-12.00" y="154.98" width="33.02" height="22.64" fill="rgb(114,153,0)"/>
<rect x="20.52" y="154.98" width="21.02" height="22.64" fill="rgb(114,140,0)"/>
<rect x="41.04" y="154.98" width="21.02" height="22.64" fill="rgb(114,140,0)"/>
<rect x="61.56" y="154.98" width="21.02" height="22.64" fill="rgb(114,153,0)"/>
<rect x="82.08" y="154.98" width="21.02" height="22.64" fill="rgb(127,140,0)"/>
<rect x="102.60" y="154.98" width="21.02" height="22.64" fill="rgb(140,114,0)"/>
<rect x="123.12" y="154.98" width="21.02" height="22.64" fill="rgb(153,114,0)"/>
<rect x="143.64" y="154.98" width="21.02" height="22.64" fill="rgb(165,127,0)"/>
<rect x="164.16" y="154.98" width="21.02" height="22.64" fill="rgb(140,140,0)"/>
<rect x="184.68" y="154.98" width="33.02" height="22.64" fill="rgb(140,153,0)"/>
<rect x="-12.00" y="177.12" width="33.02" height="22.64" fill="rgb(114,165,0)"/>
<rect x="20.52" y="177.12" width="21.02" height="22.64" fill="rgb(114,153,0)"/>
<rect x="41.04" y="177.12" width="21.02" height="22.64" fill="rgb(114,153,0)"/>
<rect x="61.56" y="177.12" width="21.02" height="22.64" fill="rgb(114,165,0)"/>
<rect x="82.08" y="177.12" width="21.02" height="22.64" fill="rgb(127,153,0)"/>
<rect x="102.60" y="177.12" width="21.02" height="22.64" fill="rgb(127,127,0)"/>
<rect x="123.12" y="177.12" width="21.02" height="22.64" fill="rgb(140,127,0)"/>
<rect x="143.64" y="177.12" width="21.02" height="22.64" fill="rgb(140,127,0)"/>
<rect x="164.16" y="177.12" width="21.02" height="22.64" fill="rgb(127,140,0)"/>
<rect x="184.68" y="177.12" width="33.02" height="22.64" fill="rgb(127,153,0)"/>
<rect x="-12.00" y="199.26" width="33.02" height="34.64" fill="rgb(114,165,0)"/>
<rect x="20.52" y="199.26" width="21.02" height="34.64" fill="rgb(114,153,0)"/>
<rect x="41.04" y="199.26" width="21.02" height="34.64" fill="rgb(114,165,0)"/>
<rect x="61.56" y="199.26" width="21.02" height="34.64" fill="rgb(114,178,0)"/>
<rect x="82.08" y="199.26" width="21.02" height="34.64" fill="rgb(114,165,0)"/>
<rect x="102.60" y="199.26" width="21.02" height="34.64" fill="rgb(127,140,0)"/>
<rect x="123.12" y="199.26" width="21.02" height="34.64" fill="rgb(127,127,0)"/>
<rect x="143.64" y="199.26" width="21.02" height="34.64" fill="rgb(127,127,0)"/>
<rect x="164.16" y="199.26" width="21.02" height="34.64" fill="rgb(127,140,0)"/>
<rect x="184.68" y="199.26" width="33.02" height="34.64" fill="rgb(127,140,0)"/>
</g></g></g>
<clipPath id="cTM"><rect x="0" y="0" width="205.40" height="221.40"/></clipPath>
<g transform="translate(498.60,326.80)" clip-path="url(#cTM)"><g filter="url(#fTM)" transform="rotate(27)"><g transform="rotate(-27)">
<rect x="-12.00" y="-12.00" width="33.04" height="34.64" fill="rgb(127,153,0)"/>
<rect x="20.54" y="-12.00" width="21.04" height="34.64" fill="rgb(127,153,0)"/>
<rect x="41.08" y="-12.00" width="21.04" height="34.64" fill="rgb(114,140,0)"/>
<rect x="61.62" y="-12.00" width="21.04" height="34.64" fill="rgb(114,114,0)"/>
<rect x="82.16" y="-12.00" width="21.04" height="34.64" fill="rgb(114,127,0)"/>
<rect x="102.70" y="-12.00" width="21.04" height="34.64" fill="rgb(127,127,0)"/>
<rect x="123.24" y="-12.00" width="21.04" height="34.64" fill="rgb(127,153,0)"/>
<rect x="143.78" y="-12.00" width="21.04" height="34.64" fill="rgb(140,153,0)"/>
<rect x="164.32" y="-12.00" width="21.04" height="34.64" fill="rgb(140,140,0)"/>
<rect x="184.86" y="-12.00" width="33.04" height="34.64" fill="rgb(127,140,0)"/>
<rect x="-12.00" y="22.14" width="33.04" height="22.64" fill="rgb(127,153,0)"/>
<rect x="20.54" y="22.14" width="21.04" height="22.64" fill="rgb(127,153,0)"/>
<rect x="41.08" y="22.14" width="21.04" height="22.64" fill="rgb(114,140,0)"/>
<rect x="61.62" y="22.14" width="21.04" height="22.64" fill="rgb(114,114,0)"/>
<rect x="82.16" y="22.14" width="21.04" height="22.64" fill="rgb(114,127,0)"/>
<rect x="102.70" y="22.14" width="21.04" height="22.64" fill="rgb(127,140,0)"/>
<rect x="123.24" y="22.14" width="21.04" height="22.64" fill="rgb(140,165,0)"/>
<rect x="143.78" y="22.14" width="21.04" height="22.64" fill="rgb(153,140,0)"/>
<rect x="164.32" y="22.14" width="21.04" height="22.64" fill="rgb(153,127,0)"/>
<rect x="184.86" y="22.14" width="33.04" height="22.64" fill="rgb(140,140,0)"/>
<rect x="-12.00" y="44.28" width="33.04" height="22.64" fill="rgb(140,127,0)"/>
<rect x="20.54" y="44.28" width="21.04" height="22.64" fill="rgb(140,102,0)"/>
<rect x="41.08" y="44.28" width="21.04" height="22.64" fill="rgb(127,102,0)"/>
<rect x="61.62" y="44.28" width="21.04" height="22.64" fill="rgb(114,114,0)"/>
<rect x="82.16" y="44.28" width="21.04" height="22.64" fill="rgb(114,140,0)"/>
<rect x="102.70" y="44.28" width="21.04" height="22.64" fill="rgb(127,140,0)"/>
<rect x="123.24" y="44.28" width="21.04" height="22.64" fill="rgb(140,127,0)"/>
<rect x="143.78" y="44.28" width="21.04" height="22.64" fill="rgb(153,114,0)"/>
<rect x="164.32" y="44.28" width="21.04" height="22.64" fill="rgb(153,140,0)"/>
<rect x="184.86" y="44.28" width="33.04" height="22.64" fill="rgb(140,153,0)"/>
<rect x="-12.00" y="66.42" width="33.04" height="22.64" fill="rgb(153,114,0)"/>
<rect x="20.54" y="66.42" width="21.04" height="22.64" fill="rgb(140,89,0)"/>
<rect x="41.08" y="66.42" width="21.04" height="22.64" fill="rgb(127,89,0)"/>
<rect x="61.62" y="66.42" width="21.04" height="22.64" fill="rgb(114,127,0)"/>
<rect x="82.16" y="66.42" width="21.04" height="22.64" fill="rgb(114,153,0)"/>
<rect x="102.70" y="66.42" width="21.04" height="22.64" fill="rgb(127,140,0)"/>
<rect x="123.24" y="66.42" width="21.04" height="22.64" fill="rgb(140,114,0)"/>
<rect x="143.78" y="66.42" width="21.04" height="22.64" fill="rgb(153,114,0)"/>
<rect x="164.32" y="66.42" width="21.04" height="22.64" fill="rgb(140,153,0)"/>
<rect x="184.86" y="66.42" width="33.04" height="22.64" fill="rgb(140,153,0)"/>
<rect x="-12.00" y="88.56" width="33.04" height="22.64" fill="rgb(140,127,0)"/>
<rect x="20.54" y="88.56" width="21.04" height="22.64" fill="rgb(127,102,0)"/>
<rect x="41.08" y="88.56" width="21.04" height="22.64" fill="rgb(114,102,0)"/>
<rect x="61.62" y="88.56" width="21.04" height="22.64" fill="rgb(102,127,0)"/>
<rect x="82.16" y="88.56" width="21.04" height="22.64" fill="rgb(114,140,0)"/>
<rect x="102.70" y="88.56" width="21.04" height="22.64" fill="rgb(127,127,0)"/>
<rect x="123.24" y="88.56" width="21.04" height="22.64" fill="rgb(153,114,0)"/>
<rect x="143.78" y="88.56" width="21.04" height="22.64" fill="rgb(153,127,0)"/>
<rect x="164.32" y="88.56" width="21.04" height="22.64" fill="rgb(153,140,0)"/>
<rect x="184.86" y="88.56" width="33.04" height="22.64" fill="rgb(140,140,0)"/>
<rect x="-12.00" y="110.70" width="33.04" height="22.64" fill="rgb(127,140,0)"/>
<rect x="20.54" y="110.70" width="21.04" height="22.64" fill="rgb(114,127,0)"/>
<rect x="41.08" y="110.70" width="21.04" height="22.64" fill="rgb(114,114,0)"/>
<rect x="61.62" y="110.70" width="21.04" height="22.64" fill="rgb(102,127,0)"/>
<rect x="82.16" y="110.70" width="21.04" height="22.64" fill="rgb(114,140,0)"/>
<rect x="102.70" y="110.70" width="21.04" height="22.64" fill="rgb(140,127,0)"/>
<rect x="123.24" y="110.70" width="21.04" height="22.64" fill="rgb(165,127,0)"/>
<rect x="143.78" y="110.70" width="21.04" height="22.64" fill="rgb(153,165,0)"/>
<rect x="164.32" y="110.70" width="21.04" height="22.64" fill="rgb(153,165,0)"/>
<rect x="184.86" y="110.70" width="33.04" height="22.64" fill="rgb(153,127,0)"/>
<rect x="-12.00" y="132.84" width="33.04" height="22.64" fill="rgb(127,153,0)"/>
<rect x="20.54" y="132.84" width="21.04" height="22.64" fill="rgb(114,140,0)"/>
<rect x="41.08" y="132.84" width="21.04" height="22.64" fill="rgb(114,127,0)"/>
<rect x="61.62" y="132.84" width="21.04" height="22.64" fill="rgb(114,140,0)"/>
<rect x="82.16" y="132.84" width="21.04" height="22.64" fill="rgb(127,127,0)"/>
<rect x="102.70" y="132.84" width="21.04" height="22.64" fill="rgb(140,114,0)"/>
<rect x="123.24" y="132.84" width="21.04" height="22.64" fill="rgb(165,127,0)"/>
<rect x="143.78" y="132.84" width="21.04" height="22.64" fill="rgb(165,140,0)"/>
<rect x="164.32" y="132.84" width="21.04" height="22.64" fill="rgb(153,140,0)"/>
<rect x="184.86" y="132.84" width="33.04" height="22.64" fill="rgb(140,140,0)"/>
<rect x="-12.00" y="154.98" width="33.04" height="22.64" fill="rgb(114,153,0)"/>
<rect x="20.54" y="154.98" width="21.04" height="22.64" fill="rgb(114,140,0)"/>
<rect x="41.08" y="154.98" width="21.04" height="22.64" fill="rgb(114,140,0)"/>
<rect x="61.62" y="154.98" width="21.04" height="22.64" fill="rgb(114,153,0)"/>
<rect x="82.16" y="154.98" width="21.04" height="22.64" fill="rgb(127,140,0)"/>
<rect x="102.70" y="154.98" width="21.04" height="22.64" fill="rgb(140,114,0)"/>
<rect x="123.24" y="154.98" width="21.04" height="22.64" fill="rgb(153,114,0)"/>
<rect x="143.78" y="154.98" width="21.04" height="22.64" fill="rgb(165,127,0)"/>
<rect x="164.32" y="154.98" width="21.04" height="22.64" fill="rgb(140,140,0)"/>
<rect x="184.86" y="154.98" width="33.04" height="22.64" fill="rgb(140,153,0)"/>
<rect x="-12.00" y="177.12" width="33.04" height="22.64" fill="rgb(114,165,0)"/>
<rect x="20.54" y="177.12" width="21.04" height="22.64" fill="rgb(114,153,0)"/>
<rect x="41.08" y="177.12" width="21.04" height="22.64" fill="rgb(114,153,0)"/>
<rect x="61.62" y="177.12" width="21.04" height="22.64" fill="rgb(114,165,0)"/>
<rect x="82.16" y="177.12" width="21.04" height="22.64" fill="rgb(127,153,0)"/>
<rect x="102.70" y="177.12" width="21.04" height="22.64" fill="rgb(127,127,0)"/>
<rect x="123.24" y="177.12" width="21.04" height="22.64" fill="rgb(140,127,0)"/>
<rect x="143.78" y="177.12" width="21.04" height="22.64" fill="rgb(140,127,0)"/>
<rect x="164.32" y="177.12" width="21.04" height="22.64" fill="rgb(127,140,0)"/>
<rect x="184.86" y="177.12" width="33.04" height="22.64" fill="rgb(127,153,0)"/>
<rect x="-12.00" y="199.26" width="33.04" height="34.64" fill="rgb(114,165,0)"/>
<rect x="20.54" y="199.26" width="21.04" height="34.64" fill="rgb(114,153,0)"/>
<rect x="41.08" y="199.26" width="21.04" height="34.64" fill="rgb(114,165,0)"/>
<rect x="61.62" y="199.26" width="21.04" height="34.64" fill="rgb(114,178,0)"/>
<rect x="82.16" y="199.26" width="21.04" height="34.64" fill="rgb(114,165,0)"/>
<rect x="102.70" y="199.26" width="21.04" height="34.64" fill="rgb(127,140,0)"/>
<rect x="123.24" y="199.26" width="21.04" height="34.64" fill="rgb(127,127,0)"/>
<rect x="143.78" y="199.26" width="21.04" height="34.64" fill="rgb(127,127,0)"/>
<rect x="164.32" y="199.26" width="21.04" height="34.64" fill="rgb(127,140,0)"/>
<rect x="184.86" y="199.26" width="33.04" height="34.64" fill="rgb(127,140,0)"/>
</g></g></g>
<clipPath id="cBG"><rect x="0" y="0" width="205.20" height="224.00"/></clipPath>
<g transform="translate(76.00,558.50)" clip-path="url(#cBG)"><g filter="url(#fBG)" transform="rotate(27)"><g transform="rotate(-27)">
<rect x="-12.00" y="-12.00" width="33.02" height="34.90" fill="rgb(86,102,0)"/>
<rect x="20.52" y="-12.00" width="21.02" height="34.90" fill="rgb(86,112,0)"/>
<rect x="41.04" y="-12.00" width="21.02" height="34.90" fill="rgb(86,112,0)"/>
<rect x="61.56" y="-12.00" width="21.02" height="34.90" fill="rgb(86,112,0)"/>
<rect x="82.08" y="-12.00" width="21.02" height="34.90" fill="rgb(94,112,0)"/>
<rect x="102.60" y="-12.00" width="21.02" height="34.90" fill="rgb(153,147,0)"/>
<rect x="123.12" y="-12.00" width="21.02" height="34.90" fill="rgb(153,147,0)"/>
<rect x="143.64" y="-12.00" width="21.02" height="34.90" fill="rgb(112,102,0)"/>
<rect x="164.16" y="-12.00" width="21.02" height="34.90" fill="rgb(112,102,0)"/>
<rect x="184.68" y="-12.00" width="33.02" height="34.90" fill="rgb(112,102,0)"/>
<rect x="-12.00" y="22.40" width="33.02" height="22.90" fill="rgb(86,102,0)"/>
<rect x="20.52" y="22.40" width="21.02" height="22.90" fill="rgb(86,114,0)"/>
<rect x="41.04" y="22.40" width="21.02" height="22.90" fill="rgb(86,114,0)"/>
<rect x="61.56" y="22.40" width="21.02" height="22.90" fill="rgb(86,114,0)"/>
<rect x="82.08" y="22.40" width="21.02" height="22.90" fill="rgb(94,114,0)"/>
<rect x="102.60" y="22.40" width="21.02" height="22.90" fill="rgb(147,158,0)"/>
<rect x="123.12" y="22.40" width="21.02" height="22.90" fill="rgb(147,158,0)"/>
<rect x="143.64" y="22.40" width="21.02" height="22.90" fill="rgb(112,102,0)"/>
<rect x="164.16" y="22.40" width="21.02" height="22.90" fill="rgb(112,102,0)"/>
<rect x="184.68" y="22.40" width="33.02" height="22.90" fill="rgb(112,102,0)"/>
<rect x="-12.00" y="44.80" width="33.02" height="22.90" fill="rgb(86,102,0)"/>
<rect x="20.52" y="44.80" width="21.02" height="22.90" fill="rgb(86,114,0)"/>
<rect x="41.04" y="44.80" width="21.02" height="22.90" fill="rgb(86,114,0)"/>
<rect x="61.56" y="44.80" width="21.02" height="22.90" fill="rgb(86,114,0)"/>
<rect x="82.08" y="44.80" width="21.02" height="22.90" fill="rgb(94,132,0)"/>
<rect x="102.60" y="44.80" width="21.02" height="22.90" fill="rgb(142,158,0)"/>
<rect x="123.12" y="44.80" width="21.02" height="22.90" fill="rgb(142,158,0)"/>
<rect x="143.64" y="44.80" width="21.02" height="22.90" fill="rgb(117,102,0)"/>
<rect x="164.16" y="44.80" width="21.02" height="22.90" fill="rgb(117,102,0)"/>
<rect x="184.68" y="44.80" width="33.02" height="22.90" fill="rgb(117,102,0)"/>
<rect x="-12.00" y="67.20" width="33.02" height="22.90" fill="rgb(86,102,0)"/>
<rect x="20.52" y="67.20" width="21.02" height="22.90" fill="rgb(86,112,0)"/>
<rect x="41.04" y="67.20" width="21.02" height="22.90" fill="rgb(86,112,0)"/>
<rect x="61.56" y="67.20" width="21.02" height="22.90" fill="rgb(86,112,0)"/>
<rect x="82.08" y="67.20" width="21.02" height="22.90" fill="rgb(94,158,0)"/>
<rect x="102.60" y="67.20" width="21.02" height="22.90" fill="rgb(153,173,0)"/>
<rect x="123.12" y="67.20" width="21.02" height="22.90" fill="rgb(153,173,0)"/>
<rect x="143.64" y="67.20" width="21.02" height="22.90" fill="rgb(122,102,0)"/>
<rect x="164.16" y="67.20" width="21.02" height="22.90" fill="rgb(122,102,0)"/>
<rect x="184.68" y="67.20" width="33.02" height="22.90" fill="rgb(122,102,0)"/>
<rect x="-12.00" y="89.60" width="33.02" height="22.90" fill="rgb(86,102,0)"/>
<rect x="20.52" y="89.60" width="21.02" height="22.90" fill="rgb(86,112,0)"/>
<rect x="41.04" y="89.60" width="21.02" height="22.90" fill="rgb(86,112,0)"/>
<rect x="61.56" y="89.60" width="21.02" height="22.90" fill="rgb(86,132,0)"/>
<rect x="82.08" y="89.60" width="21.02" height="22.90" fill="rgb(158,178,0)"/>
<rect x="102.60" y="89.60" width="21.02" height="22.90" fill="rgb(158,178,0)"/>
<rect x="123.12" y="89.60" width="21.02" height="22.90" fill="rgb(158,178,0)"/>
<rect x="143.64" y="89.60" width="21.02" height="22.90" fill="rgb(127,137,0)"/>
<rect x="164.16" y="89.60" width="21.02" height="22.90" fill="rgb(127,102,0)"/>
<rect x="184.68" y="89.60" width="33.02" height="22.90" fill="rgb(127,102,0)"/>
<rect x="-12.00" y="112.00" width="33.02" height="22.90" fill="rgb(147,102,0)"/>
<rect x="20.52" y="112.00" width="21.02" height="22.90" fill="rgb(86,112,0)"/>
<rect x="41.04" y="112.00" width="21.02" height="22.90" fill="rgb(86,112,0)"/>
<rect x="61.56" y="112.00" width="21.02" height="22.90" fill="rgb(86,137,0)"/>
<rect x="82.08" y="112.00" width="21.02" height="22.90" fill="rgb(153,173,0)"/>
<rect x="102.60" y="112.00" width="21.02" height="22.90" fill="rgb(153,173,0)"/>
<rect x="123.12" y="112.00" width="21.02" height="22.90" fill="rgb(153,173,0)"/>
<rect x="143.64" y="112.00" width="21.02" height="22.90" fill="rgb(127,173,0)"/>
<rect x="164.16" y="112.00" width="21.02" height="22.90" fill="rgb(127,102,0)"/>
<rect x="184.68" y="112.00" width="33.02" height="22.90" fill="rgb(127,102,0)"/>
<rect x="-12.00" y="134.40" width="33.02" height="22.90" fill="rgb(140,102,0)"/>
<rect x="20.52" y="134.40" width="21.02" height="22.90" fill="rgb(86,102,0)"/>
<rect x="41.04" y="134.40" width="21.02" height="22.90" fill="rgb(86,132,0)"/>
<rect x="61.56" y="134.40" width="21.02" height="22.90" fill="rgb(153,132,0)"/>
<rect x="82.08" y="134.40" width="21.02" height="22.90" fill="rgb(153,168,0)"/>
<rect x="102.60" y="134.40" width="21.02" height="22.90" fill="rgb(153,168,0)"/>
<rect x="123.12" y="134.40" width="21.02" height="22.90" fill="rgb(153,168,0)"/>
<rect x="143.64" y="134.40" width="21.02" height="22.90" fill="rgb(153,158,0)"/>
<rect x="164.16" y="134.40" width="21.02" height="22.90" fill="rgb(153,140,0)"/>
<rect x="184.68" y="134.40" width="33.02" height="22.90" fill="rgb(153,102,0)"/>
<rect x="-12.00" y="156.80" width="33.02" height="22.90" fill="rgb(94,122,0)"/>
<rect x="20.52" y="156.80" width="21.02" height="22.90" fill="rgb(94,122,0)"/>
<rect x="41.04" y="156.80" width="21.02" height="22.90" fill="rgb(163,122,0)"/>
<rect x="61.56" y="156.80" width="21.02" height="22.90" fill="rgb(163,137,0)"/>
<rect x="82.08" y="156.80" width="21.02" height="22.90" fill="rgb(163,137,0)"/>
<rect x="102.60" y="156.80" width="21.02" height="22.90" fill="rgb(163,158,0)"/>
<rect x="123.12" y="156.80" width="21.02" height="22.90" fill="rgb(163,158,0)"/>
<rect x="143.64" y="156.80" width="21.02" height="22.90" fill="rgb(163,142,0)"/>
<rect x="164.16" y="156.80" width="21.02" height="22.90" fill="rgb(163,127,0)"/>
<rect x="184.68" y="156.80" width="33.02" height="22.90" fill="rgb(163,102,0)"/>
<rect x="-12.00" y="179.20" width="33.02" height="22.90" fill="rgb(94,122,0)"/>
<rect x="20.52" y="179.20" width="21.02" height="22.90" fill="rgb(94,122,0)"/>
<rect x="41.04" y="179.20" width="21.02" height="22.90" fill="rgb(168,122,0)"/>
<rect x="61.56" y="179.20" width="21.02" height="22.90" fill="rgb(183,132,0)"/>
<rect x="82.08" y="179.20" width="21.02" height="22.90" fill="rgb(168,132,0)"/>
<rect x="102.60" y="179.20" width="21.02" height="22.90" fill="rgb(168,132,0)"/>
<rect x="123.12" y="179.20" width="21.02" height="22.90" fill="rgb(168,132,0)"/>
<rect x="143.64" y="179.20" width="21.02" height="22.90" fill="rgb(168,102,0)"/>
<rect x="164.16" y="179.20" width="21.02" height="22.90" fill="rgb(178,102,0)"/>
<rect x="184.68" y="179.20" width="33.02" height="22.90" fill="rgb(178,102,0)"/>
<rect x="-12.00" y="201.60" width="33.02" height="34.90" fill="rgb(94,102,0)"/>
<rect x="20.52" y="201.60" width="21.02" height="34.90" fill="rgb(94,119,0)"/>
<rect x="41.04" y="201.60" width="21.02" height="34.90" fill="rgb(173,119,0)"/>
<rect x="61.56" y="201.60" width="21.02" height="34.90" fill="rgb(173,127,0)"/>
<rect x="82.08" y="201.60" width="21.02" height="34.90" fill="rgb(173,127,0)"/>
<rect x="102.60" y="201.60" width="21.02" height="34.90" fill="rgb(173,127,0)"/>
<rect x="123.12" y="201.60" width="21.02" height="34.90" fill="rgb(173,127,0)"/>
<rect x="143.64" y="201.60" width="21.02" height="34.90" fill="rgb(153,102,0)"/>
<rect x="164.16" y="201.60" width="21.02" height="34.90" fill="rgb(153,102,0)"/>
<rect x="184.68" y="201.60" width="33.02" height="34.90" fill="rgb(94,102,0)"/>
</g></g></g>
<clipPath id="cBR"><rect x="0" y="0" width="205.20" height="224.00"/></clipPath>
<g transform="translate(287.80,558.50)" clip-path="url(#cBR)"><g filter="url(#fBR)" transform="rotate(27)"><g transform="rotate(-27)">
<rect x="-12.00" y="-12.00" width="33.02" height="34.90" fill="rgb(86,102,0)"/>
<rect x="20.52" y="-12.00" width="21.02" height="34.90" fill="rgb(86,112,0)"/>
<rect x="41.04" y="-12.00" width="21.02" height="34.90" fill="rgb(86,112,0)"/>
<rect x="61.56" y="-12.00" width="21.02" height="34.90" fill="rgb(86,112,0)"/>
<rect x="82.08" y="-12.00" width="21.02" height="34.90" fill="rgb(94,112,0)"/>
<rect x="102.60" y="-12.00" width="21.02" height="34.90" fill="rgb(153,147,0)"/>
<rect x="123.12" y="-12.00" width="21.02" height="34.90" fill="rgb(153,147,0)"/>
<rect x="143.64" y="-12.00" width="21.02" height="34.90" fill="rgb(112,102,0)"/>
<rect x="164.16" y="-12.00" width="21.02" height="34.90" fill="rgb(112,102,0)"/>
<rect x="184.68" y="-12.00" width="33.02" height="34.90" fill="rgb(112,102,0)"/>
<rect x="-12.00" y="22.40" width="33.02" height="22.90" fill="rgb(86,102,0)"/>
<rect x="20.52" y="22.40" width="21.02" height="22.90" fill="rgb(86,114,0)"/>
<rect x="41.04" y="22.40" width="21.02" height="22.90" fill="rgb(86,114,0)"/>
<rect x="61.56" y="22.40" width="21.02" height="22.90" fill="rgb(86,114,0)"/>
<rect x="82.08" y="22.40" width="21.02" height="22.90" fill="rgb(94,114,0)"/>
<rect x="102.60" y="22.40" width="21.02" height="22.90" fill="rgb(147,158,0)"/>
<rect x="123.12" y="22.40" width="21.02" height="22.90" fill="rgb(147,158,0)"/>
<rect x="143.64" y="22.40" width="21.02" height="22.90" fill="rgb(112,102,0)"/>
<rect x="164.16" y="22.40" width="21.02" height="22.90" fill="rgb(112,102,0)"/>
<rect x="184.68" y="22.40" width="33.02" height="22.90" fill="rgb(112,102,0)"/>
<rect x="-12.00" y="44.80" width="33.02" height="22.90" fill="rgb(86,102,0)"/>
<rect x="20.52" y="44.80" width="21.02" height="22.90" fill="rgb(86,114,0)"/>
<rect x="41.04" y="44.80" width="21.02" height="22.90" fill="rgb(86,114,0)"/>
<rect x="61.56" y="44.80" width="21.02" height="22.90" fill="rgb(86,114,0)"/>
<rect x="82.08" y="44.80" width="21.02" height="22.90" fill="rgb(94,132,0)"/>
<rect x="102.60" y="44.80" width="21.02" height="22.90" fill="rgb(142,158,0)"/>
<rect x="123.12" y="44.80" width="21.02" height="22.90" fill="rgb(142,158,0)"/>
<rect x="143.64" y="44.80" width="21.02" height="22.90" fill="rgb(117,102,0)"/>
<rect x="164.16" y="44.80" width="21.02" height="22.90" fill="rgb(117,102,0)"/>
<rect x="184.68" y="44.80" width="33.02" height="22.90" fill="rgb(117,102,0)"/>
<rect x="-12.00" y="67.20" width="33.02" height="22.90" fill="rgb(86,102,0)"/>
<rect x="20.52" y="67.20" width="21.02" height="22.90" fill="rgb(86,112,0)"/>
<rect x="41.04" y="67.20" width="21.02" height="22.90" fill="rgb(86,112,0)"/>
<rect x="61.56" y="67.20" width="21.02" height="22.90" fill="rgb(86,112,0)"/>
<rect x="82.08" y="67.20" width="21.02" height="22.90" fill="rgb(94,158,0)"/>
<rect x="102.60" y="67.20" width="21.02" height="22.90" fill="rgb(153,173,0)"/>
<rect x="123.12" y="67.20" width="21.02" height="22.90" fill="rgb(153,173,0)"/>
<rect x="143.64" y="67.20" width="21.02" height="22.90" fill="rgb(122,102,0)"/>
<rect x="164.16" y="67.20" width="21.02" height="22.90" fill="rgb(122,102,0)"/>
<rect x="184.68" y="67.20" width="33.02" height="22.90" fill="rgb(122,102,0)"/>
<rect x="-12.00" y="89.60" width="33.02" height="22.90" fill="rgb(86,102,0)"/>
<rect x="20.52" y="89.60" width="21.02" height="22.90" fill="rgb(86,112,0)"/>
<rect x="41.04" y="89.60" width="21.02" height="22.90" fill="rgb(86,112,0)"/>
<rect x="61.56" y="89.60" width="21.02" height="22.90" fill="rgb(86,132,0)"/>
<rect x="82.08" y="89.60" width="21.02" height="22.90" fill="rgb(158,178,0)"/>
<rect x="102.60" y="89.60" width="21.02" height="22.90" fill="rgb(158,178,0)"/>
<rect x="123.12" y="89.60" width="21.02" height="22.90" fill="rgb(158,178,0)"/>
<rect x="143.64" y="89.60" width="21.02" height="22.90" fill="rgb(127,137,0)"/>
<rect x="164.16" y="89.60" width="21.02" height="22.90" fill="rgb(127,102,0)"/>
<rect x="184.68" y="89.60" width="33.02" height="22.90" fill="rgb(127,102,0)"/>
<rect x="-12.00" y="112.00" width="33.02" height="22.90" fill="rgb(147,102,0)"/>
<rect x="20.52" y="112.00" width="21.02" height="22.90" fill="rgb(86,112,0)"/>
<rect x="41.04" y="112.00" width="21.02" height="22.90" fill="rgb(86,112,0)"/>
<rect x="61.56" y="112.00" width="21.02" height="22.90" fill="rgb(86,137,0)"/>
<rect x="82.08" y="112.00" width="21.02" height="22.90" fill="rgb(153,173,0)"/>
<rect x="102.60" y="112.00" width="21.02" height="22.90" fill="rgb(153,173,0)"/>
<rect x="123.12" y="112.00" width="21.02" height="22.90" fill="rgb(153,173,0)"/>
<rect x="143.64" y="112.00" width="21.02" height="22.90" fill="rgb(127,173,0)"/>
<rect x="164.16" y="112.00" width="21.02" height="22.90" fill="rgb(127,102,0)"/>
<rect x="184.68" y="112.00" width="33.02" height="22.90" fill="rgb(127,102,0)"/>
<rect x="-12.00" y="134.40" width="33.02" height="22.90" fill="rgb(140,102,0)"/>
<rect x="20.52" y="134.40" width="21.02" height="22.90" fill="rgb(86,102,0)"/>
<rect x="41.04" y="134.40" width="21.02" height="22.90" fill="rgb(86,132,0)"/>
<rect x="61.56" y="134.40" width="21.02" height="22.90" fill="rgb(153,132,0)"/>
<rect x="82.08" y="134.40" width="21.02" height="22.90" fill="rgb(153,168,0)"/>
<rect x="102.60" y="134.40" width="21.02" height="22.90" fill="rgb(153,168,0)"/>
<rect x="123.12" y="134.40" width="21.02" height="22.90" fill="rgb(153,168,0)"/>
<rect x="143.64" y="134.40" width="21.02" height="22.90" fill="rgb(153,158,0)"/>
<rect x="164.16" y="134.40" width="21.02" height="22.90" fill="rgb(153,140,0)"/>
<rect x="184.68" y="134.40" width="33.02" height="22.90" fill="rgb(153,102,0)"/>
<rect x="-12.00" y="156.80" width="33.02" height="22.90" fill="rgb(94,122,0)"/>
<rect x="20.52" y="156.80" width="21.02" height="22.90" fill="rgb(94,122,0)"/>
<rect x="41.04" y="156.80" width="21.02" height="22.90" fill="rgb(163,122,0)"/>
<rect x="61.56" y="156.80" width="21.02" height="22.90" fill="rgb(163,137,0)"/>
<rect x="82.08" y="156.80" width="21.02" height="22.90" fill="rgb(163,137,0)"/>
<rect x="102.60" y="156.80" width="21.02" height="22.90" fill="rgb(163,158,0)"/>
<rect x="123.12" y="156.80" width="21.02" height="22.90" fill="rgb(163,158,0)"/>
<rect x="143.64" y="156.80" width="21.02" height="22.90" fill="rgb(163,142,0)"/>
<rect x="164.16" y="156.80" width="21.02" height="22.90" fill="rgb(163,127,0)"/>
<rect x="184.68" y="156.80" width="33.02" height="22.90" fill="rgb(163,102,0)"/>
<rect x="-12.00" y="179.20" width="33.02" height="22.90" fill="rgb(94,122,0)"/>
<rect x="20.52" y="179.20" width="21.02" height="22.90" fill="rgb(94,122,0)"/>
<rect x="41.04" y="179.20" width="21.02" height="22.90" fill="rgb(168,122,0)"/>
<rect x="61.56" y="179.20" width="21.02" height="22.90" fill="rgb(183,132,0)"/>
<rect x="82.08" y="179.20" width="21.02" height="22.90" fill="rgb(168,132,0)"/>
<rect x="102.60" y="179.20" width="21.02" height="22.90" fill="rgb(168,132,0)"/>
<rect x="123.12" y="179.20" width="21.02" height="22.90" fill="rgb(168,132,0)"/>
<rect x="143.64" y="179.20" width="21.02" height="22.90" fill="rgb(168,102,0)"/>
<rect x="164.16" y="179.20" width="21.02" height="22.90" fill="rgb(178,102,0)"/>
<rect x="184.68" y="179.20" width="33.02" height="22.90" fill="rgb(178,102,0)"/>
<rect x="-12.00" y="201.60" width="33.02" height="34.90" fill="rgb(94,102,0)"/>
<rect x="20.52" y="201.60" width="21.02" height="34.90" fill="rgb(94,119,0)"/>
<rect x="41.04" y="201.60" width="21.02" height="34.90" fill="rgb(173,119,0)"/>
<rect x="61.56" y="201.60" width="21.02" height="34.90" fill="rgb(173,127,0)"/>
<rect x="82.08" y="201.60" width="21.02" height="34.90" fill="rgb(173,127,0)"/>
<rect x="102.60" y="201.60" width="21.02" height="34.90" fill="rgb(173,127,0)"/>
<rect x="123.12" y="201.60" width="21.02" height="34.90" fill="rgb(173,127,0)"/>
<rect x="143.64" y="201.60" width="21.02" height="34.90" fill="rgb(153,102,0)"/>
<rect x="164.16" y="201.60" width="21.02" height="34.90" fill="rgb(153,102,0)"/>
<rect x="184.68" y="201.60" width="33.02" height="34.90" fill="rgb(94,102,0)"/>
</g></g></g>
<clipPath id="cBM"><rect x="0" y="0" width="205.40" height="224.00"/></clipPath>
<g transform="translate(498.60,558.50)" clip-path="url(#cBM)"><g filter="url(#fBM)" transform="rotate(27)"><g transform="rotate(-27)">
<rect x="-12.00" y="-12.00" width="33.04" height="34.90" fill="rgb(86,102,0)"/>
<rect x="20.54" y="-12.00" width="21.04" height="34.90" fill="rgb(86,112,0)"/>
<rect x="41.08" y="-12.00" width="21.04" height="34.90" fill="rgb(86,112,0)"/>
<rect x="61.62" y="-12.00" width="21.04" height="34.90" fill="rgb(86,112,0)"/>
<rect x="82.16" y="-12.00" width="21.04" height="34.90" fill="rgb(94,112,0)"/>
<rect x="102.70" y="-12.00" width="21.04" height="34.90" fill="rgb(153,147,0)"/>
<rect x="123.24" y="-12.00" width="21.04" height="34.90" fill="rgb(153,147,0)"/>
<rect x="143.78" y="-12.00" width="21.04" height="34.90" fill="rgb(112,102,0)"/>
<rect x="164.32" y="-12.00" width="21.04" height="34.90" fill="rgb(112,102,0)"/>
<rect x="184.86" y="-12.00" width="33.04" height="34.90" fill="rgb(112,102,0)"/>
<rect x="-12.00" y="22.40" width="33.04" height="22.90" fill="rgb(86,102,0)"/>
<rect x="20.54" y="22.40" width="21.04" height="22.90" fill="rgb(86,114,0)"/>
<rect x="41.08" y="22.40" width="21.04" height="22.90" fill="rgb(86,114,0)"/>
<rect x="61.62" y="22.40" width="21.04" height="22.90" fill="rgb(86,114,0)"/>
<rect x="82.16" y="22.40" width="21.04" height="22.90" fill="rgb(94,114,0)"/>
<rect x="102.70" y="22.40" width="21.04" height="22.90" fill="rgb(147,158,0)"/>
<rect x="123.24" y="22.40" width="21.04" height="22.90" fill="rgb(147,158,0)"/>
<rect x="143.78" y="22.40" width="21.04" height="22.90" fill="rgb(112,102,0)"/>
<rect x="164.32" y="22.40" width="21.04" height="22.90" fill="rgb(112,102,0)"/>
<rect x="184.86" y="22.40" width="33.04" height="22.90" fill="rgb(112,102,0)"/>
<rect x="-12.00" y="44.80" width="33.04" height="22.90" fill="rgb(86,102,0)"/>
<rect x="20.54" y="44.80" width="21.04" height="22.90" fill="rgb(86,114,0)"/>
<rect x="41.08" y="44.80" width="21.04" height="22.90" fill="rgb(86,114,0)"/>
<rect x="61.62" y="44.80" width="21.04" height="22.90" fill="rgb(86,114,0)"/>
<rect x="82.16" y="44.80" width="21.04" height="22.90" fill="rgb(94,132,0)"/>
<rect x="102.70" y="44.80" width="21.04" height="22.90" fill="rgb(142,158,0)"/>
<rect x="123.24" y="44.80" width="21.04" height="22.90" fill="rgb(142,158,0)"/>
<rect x="143.78" y="44.80" width="21.04" height="22.90" fill="rgb(117,102,0)"/>
<rect x="164.32" y="44.80" width="21.04" height="22.90" fill="rgb(117,102,0)"/>
<rect x="184.86" y="44.80" width="33.04" height="22.90" fill="rgb(117,102,0)"/>
<rect x="-12.00" y="67.20" width="33.04" height="22.90" fill="rgb(86,102,0)"/>
<rect x="20.54" y="67.20" width="21.04" height="22.90" fill="rgb(86,112,0)"/>
<rect x="41.08" y="67.20" width="21.04" height="22.90" fill="rgb(86,112,0)"/>
<rect x="61.62" y="67.20" width="21.04" height="22.90" fill="rgb(86,112,0)"/>
<rect x="82.16" y="67.20" width="21.04" height="22.90" fill="rgb(94,158,0)"/>
<rect x="102.70" y="67.20" width="21.04" height="22.90" fill="rgb(153,173,0)"/>
<rect x="123.24" y="67.20" width="21.04" height="22.90" fill="rgb(153,173,0)"/>
<rect x="143.78" y="67.20" width="21.04" height="22.90" fill="rgb(122,102,0)"/>
<rect x="164.32" y="67.20" width="21.04" height="22.90" fill="rgb(122,102,0)"/>
<rect x="184.86" y="67.20" width="33.04" height="22.90" fill="rgb(122,102,0)"/>
<rect x="-12.00" y="89.60" width="33.04" height="22.90" fill="rgb(86,102,0)"/>
<rect x="20.54" y="89.60" width="21.04" height="22.90" fill="rgb(86,112,0)"/>
<rect x="41.08" y="89.60" width="21.04" height="22.90" fill="rgb(86,112,0)"/>
<rect x="61.62" y="89.60" width="21.04" height="22.90" fill="rgb(86,132,0)"/>
<rect x="82.16" y="89.60" width="21.04" height="22.90" fill="rgb(158,178,0)"/>
<rect x="102.70" y="89.60" width="21.04" height="22.90" fill="rgb(158,178,0)"/>
<rect x="123.24" y="89.60" width="21.04" height="22.90" fill="rgb(158,178,0)"/>
<rect x="143.78" y="89.60" width="21.04" height="22.90" fill="rgb(127,137,0)"/>
<rect x="164.32" y="89.60" width="21.04" height="22.90" fill="rgb(127,102,0)"/>
<rect x="184.86" y="89.60" width="33.04" height="22.90" fill="rgb(127,102,0)"/>
<rect x="-12.00" y="112.00" width="33.04" height="22.90" fill="rgb(147,102,0)"/>
<rect x="20.54" y="112.00" width="21.04" height="22.90" fill="rgb(86,112,0)"/>
<rect x="41.08" y="112.00" width="21.04" height="22.90" fill="rgb(86,112,0)"/>
<rect x="61.62" y="112.00" width="21.04" height="22.90" fill="rgb(86,137,0)"/>
<rect x="82.16" y="112.00" width="21.04" height="22.90" fill="rgb(153,173,0)"/>
<rect x="102.70" y="112.00" width="21.04" height="22.90" fill="rgb(153,173,0)"/>
<rect x="123.24" y="112.00" width="21.04" height="22.90" fill="rgb(153,173,0)"/>
<rect x="143.78" y="112.00" width="21.04" height="22.90" fill="rgb(127,173,0)"/>
<rect x="164.32" y="112.00" width="21.04" height="22.90" fill="rgb(127,102,0)"/>
<rect x="184.86" y="112.00" width="33.04" height="22.90" fill="rgb(127,102,0)"/>
<rect x="-12.00" y="134.40" width="33.04" height="22.90" fill="rgb(140,102,0)"/>
<rect x="20.54" y="134.40" width="21.04" height="22.90" fill="rgb(86,102,0)"/>
<rect x="41.08" y="134.40" width="21.04" height="22.90" fill="rgb(86,132,0)"/>
<rect x="61.62" y="134.40" width="21.04" height="22.90" fill="rgb(153,132,0)"/>
<rect x="82.16" y="134.40" width="21.04" height="22.90" fill="rgb(153,168,0)"/>
<rect x="102.70" y="134.40" width="21.04" height="22.90" fill="rgb(153,168,0)"/>
<rect x="123.24" y="134.40" width="21.04" height="22.90" fill="rgb(153,168,0)"/>
<rect x="143.78" y="134.40" width="21.04" height="22.90" fill="rgb(153,158,0)"/>
<rect x="164.32" y="134.40" width="21.04" height="22.90" fill="rgb(153,140,0)"/>
<rect x="184.86" y="134.40" width="33.04" height="22.90" fill="rgb(153,102,0)"/>
<rect x="-12.00" y="156.80" width="33.04" height="22.90" fill="rgb(94,122,0)"/>
<rect x="20.54" y="156.80" width="21.04" height="22.90" fill="rgb(94,122,0)"/>
<rect x="41.08" y="156.80" width="21.04" height="22.90" fill="rgb(163,122,0)"/>
<rect x="61.62" y="156.80" width="21.04" height="22.90" fill="rgb(163,137,0)"/>
<rect x="82.16" y="156.80" width="21.04" height="22.90" fill="rgb(163,137,0)"/>
<rect x="102.70" y="156.80" width="21.04" height="22.90" fill="rgb(163,158,0)"/>
<rect x="123.24" y="156.80" width="21.04" height="22.90" fill="rgb(163,158,0)"/>
<rect x="143.78" y="156.80" width="21.04" height="22.90" fill="rgb(163,142,0)"/>
<rect x="164.32" y="156.80" width="21.04" height="22.90" fill="rgb(163,127,0)"/>
<rect x="184.86" y="156.80" width="33.04" height="22.90" fill="rgb(163,102,0)"/>
<rect x="-12.00" y="179.20" width="33.04" height="22.90" fill="rgb(94,122,0)"/>
<rect x="20.54" y="179.20" width="21.04" height="22.90" fill="rgb(94,122,0)"/>
<rect x="41.08" y="179.20" width="21.04" height="22.90" fill="rgb(168,122,0)"/>
<rect x="61.62" y="179.20" width="21.04" height="22.90" fill="rgb(183,132,0)"/>
<rect x="82.16" y="179.20" width="21.04" height="22.90" fill="rgb(168,132,0)"/>
<rect x="102.70" y="179.20" width="21.04" height="22.90" fill="rgb(168,132,0)"/>
<rect x="123.24" y="179.20" width="21.04" height="22.90" fill="rgb(168,132,0)"/>
<rect x="143.78" y="179.20" width="21.04" height="22.90" fill="rgb(168,102,0)"/>
<rect x="164.32" y="179.20" width="21.04" height="22.90" fill="rgb(178,102,0)"/>
<rect x="184.86" y="179.20" width="33.04" height="22.90" fill="rgb(178,102,0)"/>
<rect x="-12.00" y="201.60" width="33.04" height="34.90" fill="rgb(94,102,0)"/>
<rect x="20.54" y="201.60" width="21.04" height="34.90" fill="rgb(94,119,0)"/>
<rect x="41.08" y="201.60" width="21.04" height="34.90" fill="rgb(173,119,0)"/>
<rect x="61.62" y="201.60" width="21.04" height="34.90" fill="rgb(173,127,0)"/>
<rect x="82.16" y="201.60" width="21.04" height="34.90" fill="rgb(173,127,0)"/>
<rect x="102.70" y="201.60" width="21.04" height="34.90" fill="rgb(173,127,0)"/>
<rect x="123.24" y="201.60" width="21.04" height="34.90" fill="rgb(173,127,0)"/>
<rect x="143.78" y="201.60" width="21.04" height="34.90" fill="rgb(153,102,0)"/>
<rect x="164.32" y="201.60" width="21.04" height="34.90" fill="rgb(153,102,0)"/>
<rect x="184.86" y="201.60" width="33.04" height="34.90" fill="rgb(94,102,0)"/>
</g></g></g>
<line x1="231.30" y1="516.20" x2="249.00" y2="516.20" stroke="#f2f2f2" stroke-width="1.9"/>
<text x="281.60" y="536.90" font-size="17.2" font-weight="normal" text-anchor="end" fill="#f0f0f0" >20 μm</text>
<line x1="437.00" y1="517.30" x2="454.50" y2="517.30" stroke="#f2f2f2" stroke-width="1.9"/>
<text x="492.60" y="536.90" font-size="17.2" font-weight="normal" text-anchor="end" fill="#f0f0f0" >20 μm</text>
<line x1="653.00" y1="517.00" x2="670.50" y2="517.00" stroke="#f2f2f2" stroke-width="1.9"/>
<text x="702.60" y="536.90" font-size="17.2" font-weight="normal" text-anchor="end" fill="#f0f0f0" >20 μm</text>
<line x1="228.70" y1="750.20" x2="246.50" y2="750.20" stroke="#f2f2f2" stroke-width="1.9"/>
<text x="280.60" y="770.80" font-size="17.2" font-weight="normal" text-anchor="end" fill="#f0f0f0" >20 μm</text>
<line x1="440.30" y1="750.10" x2="458.50" y2="750.10" stroke="#f2f2f2" stroke-width="1.9"/>
<text x="492.40" y="770.80" font-size="17.2" font-weight="normal" text-anchor="end" fill="#f0f0f0" >20 μm</text>
<line x1="652.30" y1="750.20" x2="670.00" y2="750.20" stroke="#f2f2f2" stroke-width="1.9"/>
<text x="702.50" y="770.60" font-size="17.2" font-weight="normal" text-anchor="end" fill="#f0f0f0" >20 μm</text>
<text transform="translate(58.6,543.7) rotate(-90)" font-size="20" font-weight="bold" fill="#111">24 h biofilm&#160;&#160;(control)</text>
<text transform="translate(35.6,766.5) rotate(-90)" font-size="19.6" font-weight="bold" fill="#111">24 h biofilm+&#160;0.4 M</text>
<text transform="translate(58.2,766.5) rotate(-90)" font-size="18.6" font-weight="bold" fill="#111">NaCl 15 min</text>
<line x1="813.70" y1="328.08" x2="813.70" y2="530.00" stroke="#111" stroke-width="1.5"/>
<line x1="809.50" y1="529.50" x2="813.70" y2="529.50" stroke="#111" stroke-width="1.2"/>
<text x="803.20" y="533.30" font-size="10.8" font-weight="bold" text-anchor="end" fill="#505050" >0</text>
<line x1="809.50" y1="495.93" x2="813.70" y2="495.93" stroke="#111" stroke-width="1.2"/>
<text x="803.20" y="499.73" font-size="10.8" font-weight="bold" text-anchor="end" fill="#505050" >10</text>
<line x1="809.50" y1="462.36" x2="813.70" y2="462.36" stroke="#111" stroke-width="1.2"/>
<text x="803.20" y="466.16" font-size="10.8" font-weight="bold" text-anchor="end" fill="#505050" >20</text>
<line x1="809.50" y1="428.79" x2="813.70" y2="428.79" stroke="#111" stroke-width="1.2"/>
<text x="803.20" y="432.59" font-size="10.8" font-weight="bold" text-anchor="end" fill="#505050" >30</text>
<line x1="809.50" y1="395.22" x2="813.70" y2="395.22" stroke="#111" stroke-width="1.2"/>
<text x="803.20" y="399.02" font-size="10.8" font-weight="bold" text-anchor="end" fill="#505050" >40</text>
<line x1="809.50" y1="361.65" x2="813.70" y2="361.65" stroke="#111" stroke-width="1.2"/>
<text x="803.20" y="365.45" font-size="10.8" font-weight="bold" text-anchor="end" fill="#505050" >50</text>
<line x1="809.50" y1="328.08" x2="813.70" y2="328.08" stroke="#111" stroke-width="1.2"/>
<text x="803.20" y="331.88" font-size="10.8" font-weight="bold" text-anchor="end" fill="#505050" >60</text>
<line x1="813.00" y1="529.50" x2="1130.00" y2="529.50" stroke="#111" stroke-width="1.5"/>
<line x1="813.70" y1="529.50" x2="813.70" y2="533.50" stroke="#111" stroke-width="1.2"/>
<line x1="971.85" y1="529.50" x2="971.85" y2="533.50" stroke="#111" stroke-width="1.2"/>
<line x1="1130.00" y1="529.50" x2="1130.00" y2="533.50" stroke="#111" stroke-width="1.2"/>
<rect x="860.60" y="361.30" width="63.70" height="168.20" fill="url(#hD)" stroke="#444" stroke-width="0.8"/>
<line x1="890.00" y1="361.00" x2="895.00" y2="361.00" stroke="#333" stroke-width="1.0"/>
<rect x="1019.20" y="365.10" width="63.40" height="164.40" fill="#282828" />
<line x1="1050.90" y1="361.70" x2="1050.90" y2="365.10" stroke="#333" stroke-width="1.0"/>
<line x1="1048.40" y1="361.70" x2="1053.40" y2="361.70" stroke="#333" stroke-width="1.0"/>
<path d="M891.3,356.5V340.7H1043.9V355.6" fill="none" stroke="#111" stroke-width="1.5"/>
<text x="974.20" y="333.00" font-size="10.9" font-weight="bold" text-anchor="middle" fill="#222" >N.S</text>
<text x="892.30" y="545.60" font-size="11.5" font-weight="normal" text-anchor="middle" fill="#333" >24 h biofilm (control)</text>
<text x="966.70" y="545.60" font-size="11.5" font-weight="normal" text-anchor="start" fill="#333"  textLength="167" lengthAdjust="spacingAndGlyphs">24 h biofilm + 0.4 M&#160;&#160;NaCl 15 min</text>
<text transform="translate(775.0,435.7) rotate(-90)" font-size="14.3" font-weight="bold" fill="#111" text-anchor="middle"><tspan font-style="italic">S.mutans</tspan> live/total (%)</text>
<text x="748.60" y="573.00" font-size="30.5" font-weight="bold" text-anchor="start" fill="#000" >E</text>
<line x1="813.70" y1="579.56" x2="813.70" y2="774.70" stroke="#111" stroke-width="1.5"/>
<line x1="809.50" y1="774.20" x2="813.70" y2="774.20" stroke="#111" stroke-width="1.2"/>
<text x="805.30" y="778.60" font-size="10.8" font-weight="normal" text-anchor="end" fill="#333" >0</text>
<line x1="809.50" y1="749.87" x2="813.70" y2="749.87" stroke="#111" stroke-width="1.2"/>
<text x="805.30" y="754.27" font-size="10.8" font-weight="normal" text-anchor="end" fill="#333" >1</text>
<line x1="809.50" y1="725.54" x2="813.70" y2="725.54" stroke="#111" stroke-width="1.2"/>
<text x="805.30" y="729.94" font-size="10.8" font-weight="normal" text-anchor="end" fill="#333" >2</text>
<line x1="809.50" y1="701.21" x2="813.70" y2="701.21" stroke="#111" stroke-width="1.2"/>
<text x="805.30" y="705.61" font-size="10.8" font-weight="normal" text-anchor="end" fill="#333" >3</text>
<line x1="809.50" y1="676.88" x2="813.70" y2="676.88" stroke="#111" stroke-width="1.2"/>
<text x="805.30" y="681.28" font-size="10.8" font-weight="normal" text-anchor="end" fill="#333" >4</text>
<line x1="809.50" y1="652.55" x2="813.70" y2="652.55" stroke="#111" stroke-width="1.2"/>
<text x="805.30" y="656.95" font-size="10.8" font-weight="normal" text-anchor="end" fill="#333" >5</text>
<line x1="809.50" y1="628.22" x2="813.70" y2="628.22" stroke="#111" stroke-width="1.2"/>
<text x="805.30" y="632.62" font-size="10.8" font-weight="normal" text-anchor="end" fill="#333" >6</text>
<line x1="809.50" y1="603.89" x2="813.70" y2="603.89" stroke="#111" stroke-width="1.2"/>
<text x="805.30" y="608.29" font-size="10.8" font-weight="normal" text-anchor="end" fill="#333" >7</text>
<line x1="809.50" y1="579.56" x2="813.70" y2="579.56" stroke="#111" stroke-width="1.2"/>
<text x="805.30" y="583.96" font-size="10.8" font-weight="normal" text-anchor="end" fill="#333" >8</text>
<line x1="813.00" y1="774.20" x2="1139.00" y2="774.20" stroke="#111" stroke-width="1.5"/>
<line x1="813.70" y1="774.20" x2="813.70" y2="778.20" stroke="#111" stroke-width="1.2"/>
<line x1="976.35" y1="774.20" x2="976.35" y2="778.20" stroke="#111" stroke-width="1.2"/>
<line x1="1139.00" y1="774.20" x2="1139.00" y2="778.20" stroke="#111" stroke-width="1.2"/>
<rect x="862.30" y="610.60" width="66.30" height="163.60" fill="url(#hE)" stroke="#444" stroke-width="0.8"/>
<line x1="893.00" y1="610.30" x2="898.00" y2="610.30" stroke="#333" stroke-width="1.0"/>
<rect x="1024.90" y="610.60" width="66.40" height="163.60" fill="#282828" />
<path d="M894.5,602.5V585.8H1058.2V601.7" fill="none" stroke="#111" stroke-width="1.5"/>
<text x="967.00" y="576.40" font-size="10.4" font-weight="bold" text-anchor="middle" fill="#222" >N.S</text>
<text x="895.50" y="790.20" font-size="10.5" font-weight="normal" text-anchor="middle" fill="#333" >24 h biofilm (control)</text>
<text x="982.00" y="790.20" font-size="10.5" font-weight="normal" text-anchor="start" fill="#333"  textLength="151" lengthAdjust="spacingAndGlyphs">24 h biofilm + 0.4 M&#160;&#160;NaCl 15 min</text>
<text transform="translate(771.6,676.3) rotate(-90)" font-size="14.2" font-weight="bold" fill="#111" text-anchor="middle">log CFU/ml</text>
</svg></body></html>
